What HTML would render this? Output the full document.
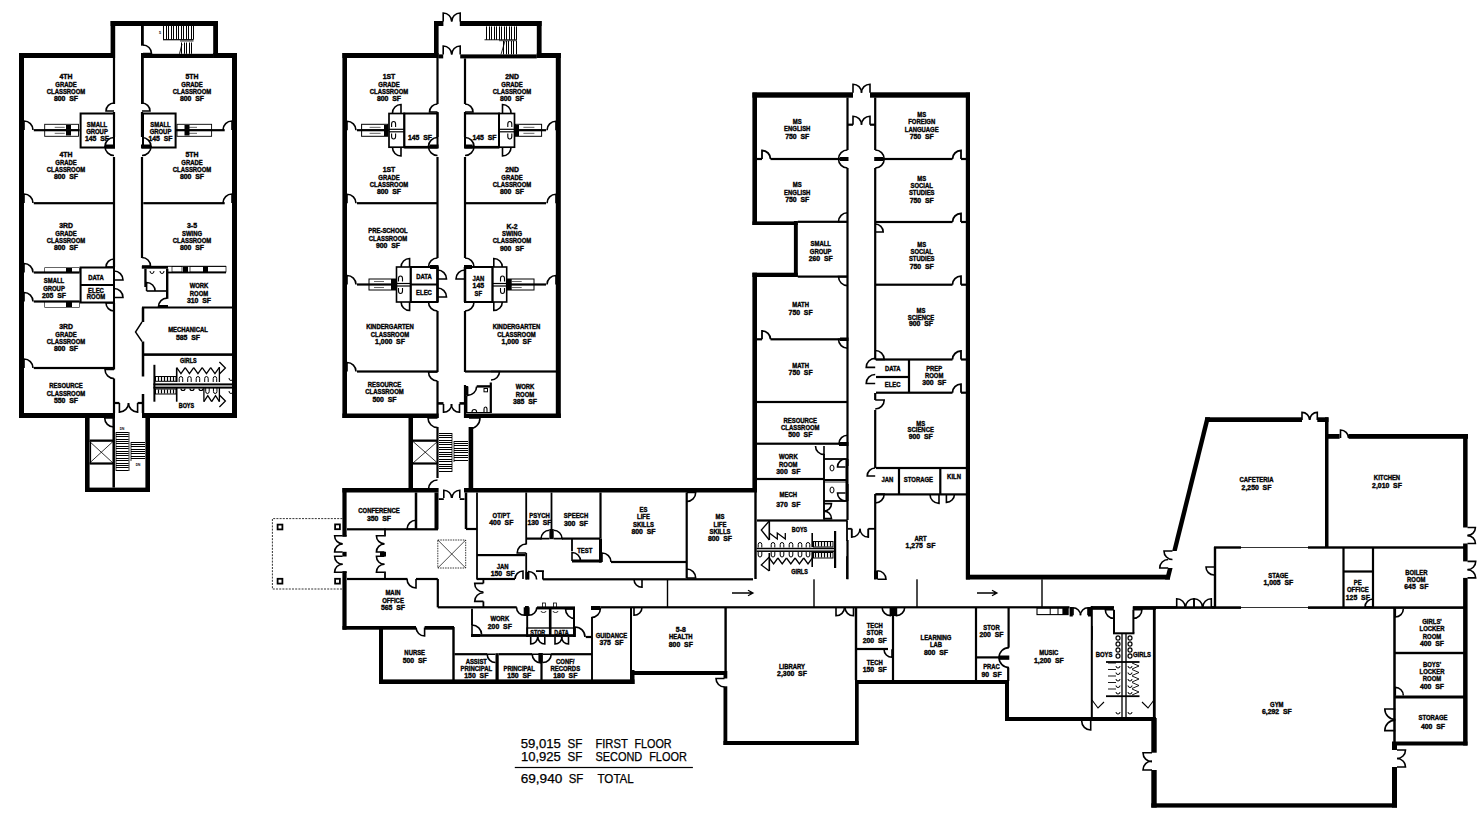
<!DOCTYPE html>
<html><head><meta charset="utf-8"><style>
html,body{margin:0;padding:0;background:#fff;width:1483px;height:825px;overflow:hidden}
svg{display:block}
text{font-family:"Liberation Sans",sans-serif;white-space:pre}
</style></head><body>
<svg width="1483" height="825" viewBox="0 0 1483 825">
<rect x="0" y="0" width="1483" height="825" fill="#fff"/>
<g fill="#000">
<rect x="19.00" y="53.00" width="96.00" height="5.00"/>
<rect x="110.60" y="21.00" width="4.60" height="37.00"/>
<rect x="110.60" y="21.00" width="107.40" height="5.00"/>
<rect x="213.20" y="21.00" width="4.80" height="37.00"/>
<rect x="213.20" y="53.00" width="23.80" height="5.00"/>
<rect x="19.00" y="53.00" width="5.00" height="365.00"/>
<rect x="232.00" y="53.00" width="5.00" height="365.00"/>
<rect x="19.00" y="413.00" width="96.00" height="5.00"/>
<rect x="142.00" y="413.00" width="95.00" height="5.00"/>
<rect x="112.90" y="58.00" width="2.20" height="46.00"/>
<rect x="112.90" y="112.00" width="2.20" height="25.00"/>
<rect x="112.90" y="157.00" width="2.20" height="110.00"/>
<rect x="112.90" y="303.00" width="2.20" height="66.50"/>
<rect x="112.90" y="378.50" width="2.20" height="34.50"/>
<rect x="141.00" y="26.00" width="2.80" height="19.70"/>
<rect x="141.00" y="53.00" width="2.80" height="51.00"/>
<rect x="140.90" y="112.00" width="2.20" height="25.00"/>
<rect x="140.90" y="157.00" width="2.20" height="101.00"/>
<path d="M163.50,26.00V39.50M166.50,26.00V39.50M168.50,26.00V39.50M171.50,26.00V39.50M173.50,26.00V39.50M176.50,26.00V39.50M178.50,26.00V39.50M181.50,26.00V39.50M183.50,26.00V39.50M186.50,26.00V39.50M188.50,26.00V39.50M191.50,26.00V39.50M193.50,26.00V39.50" stroke="#000" stroke-width="1.0" fill="none"/>
<rect x="163.00" y="39.10" width="30.50" height="1.20"/>
<rect x="180.00" y="40.60" width="13.50" height="0.80"/>
<rect x="143.00" y="53.80" width="70.20" height="4.20"/>
<path d="M181.50,42.50V53.80M184.50,42.50V53.80M186.50,42.50V53.80M189.50,42.50V53.80M191.50,42.50V53.80" stroke="#000" stroke-width="1.0" fill="none"/>
<line x1="179.50" y1="53.80" x2="182.00" y2="44.00" stroke="#000" stroke-width="0.9"/>
<path d="M143.00,53.50 L151.50,53.50 A8.50,8.50 0 0 0 143.00,45.00" stroke="#000" stroke-width="1.6" fill="none"/>
<g font-size="4" font-weight="bold" text-anchor="middle"><text transform="translate(160.00,33.86) scale(0.93,1)" x="0" y="0">5</text></g>
<rect x="33.80" y="202.10" width="79.20" height="2.20"/>
<path d="M24.00,203.00 L24.00,194.00 A9.00,9.00 0 0 1 33.00,203.00" stroke="#000" stroke-width="1.6" fill="none"/>
<rect x="33.80" y="129.10" width="45.80" height="2.20"/>
<path d="M24.00,130.00 L24.00,121.00 A9.00,9.00 0 0 1 33.00,130.00" stroke="#000" stroke-width="1.6" fill="none"/>
<rect x="143.30" y="202.10" width="81.40" height="2.20"/>
<path d="M232.00,203.00 L232.00,194.00 A9.00,9.00 0 0 0 223.00,203.00" stroke="#000" stroke-width="1.6" fill="none"/>
<rect x="176.00" y="129.10" width="48.70" height="2.20"/>
<path d="M232.00,130.00 L232.00,121.00 A9.00,9.00 0 0 0 223.00,130.00" stroke="#000" stroke-width="1.6" fill="none"/>
<rect x="80.60" y="113.50" width="33.40" height="34.00" fill="none" stroke="#000" stroke-width="2.0"/>
<rect x="143.00" y="113.50" width="32.60" height="34.00" fill="none" stroke="#000" stroke-width="2.0"/>
<path d="M114.00,111.00 L106.00,111.00 A8.00,8.00 0 0 1 114.00,103.00" stroke="#000" stroke-width="1.6" fill="none"/>
<path d="M114.00,146.50 L105.00,146.50 A9.00,9.00 0 0 1 114.00,137.50" stroke="#000" stroke-width="1.6" fill="none"/>
<path d="M114.00,146.50 L105.00,146.50 A9.00,9.00 0 0 0 114.00,155.50" stroke="#000" stroke-width="1.6" fill="none"/>
<path d="M142.00,111.00 L150.00,111.00 A8.00,8.00 0 0 0 142.00,103.00" stroke="#000" stroke-width="1.6" fill="none"/>
<path d="M142.00,146.50 L151.00,146.50 A9.00,9.00 0 0 0 142.00,137.50" stroke="#000" stroke-width="1.6" fill="none"/>
<path d="M142.00,146.50 L151.00,146.50 A9.00,9.00 0 0 1 142.00,155.50" stroke="#000" stroke-width="1.6" fill="none"/>
<rect x="106.00" y="144.50" width="9.00" height="4.00"/>
<rect x="141.00" y="144.50" width="9.00" height="4.00"/>
<rect x="44.70" y="124.30" width="33.80" height="5.90" fill="none" stroke="#000" stroke-width="0.9"/>
<rect x="44.70" y="130.20" width="33.80" height="6.10" fill="none" stroke="#000" stroke-width="0.9"/>
<rect x="66.00" y="125.00" width="5.00" height="4.50"/>
<rect x="66.00" y="131.00" width="5.00" height="4.50"/>
<rect x="54.70" y="126.90" width="10.00" height="0.60"/>
<rect x="54.70" y="132.90" width="10.00" height="0.60"/>
<rect x="177.00" y="124.30" width="34.60" height="5.90" fill="none" stroke="#000" stroke-width="0.9"/>
<rect x="177.00" y="130.20" width="34.60" height="6.10" fill="none" stroke="#000" stroke-width="0.9"/>
<rect x="184.50" y="125.00" width="5.00" height="4.50"/>
<rect x="184.50" y="131.00" width="5.00" height="4.50"/>
<rect x="187.00" y="126.90" width="10.00" height="0.60"/>
<rect x="187.00" y="132.90" width="10.00" height="0.60"/>
<rect x="80.60" y="267.50" width="33.40" height="35.00" fill="none" stroke="#000" stroke-width="2.0"/>
<rect x="80.60" y="284.00" width="33.40" height="2.00"/>
<path d="M114.00,280.00 L123.00,280.00 A9.00,9.00 0 0 0 114.00,271.00" stroke="#000" stroke-width="1.6" fill="none"/>
<path d="M114.00,297.50 L123.00,297.50 A9.00,9.00 0 0 0 114.00,288.50" stroke="#000" stroke-width="1.6" fill="none"/>
<rect x="33.80" y="271.40" width="45.80" height="2.20"/>
<rect x="33.80" y="300.40" width="45.80" height="2.20"/>
<path d="M24.00,272.50 L24.00,263.50 A9.00,9.00 0 0 1 33.00,272.50" stroke="#000" stroke-width="1.6" fill="none"/>
<path d="M24.00,301.50 L24.00,292.50 A9.00,9.00 0 0 1 33.00,301.50" stroke="#000" stroke-width="1.6" fill="none"/>
<rect x="44.70" y="267.70" width="34.90" height="4.80" fill="none" stroke="#000" stroke-width="0.6"/>
<rect x="66.00" y="268.00" width="6.00" height="4.00"/>
<rect x="44.70" y="301.50" width="34.90" height="5.90" fill="none" stroke="#000" stroke-width="0.6"/>
<rect x="66.00" y="302.00" width="6.00" height="5.00"/>
<rect x="33.80" y="366.90" width="79.20" height="2.20"/>
<path d="M24.00,368.00 L24.00,359.00 A9.00,9.00 0 0 1 33.00,368.00" stroke="#000" stroke-width="1.6" fill="none"/>
<path d="M114.00,303.00 L106.00,303.00 A8.00,8.00 0 0 0 114.00,311.00" stroke="#000" stroke-width="1.6" fill="none"/>
<path d="M114.00,369.50 L105.00,369.50 A9.00,9.00 0 0 0 114.00,378.50" stroke="#000" stroke-width="1.6" fill="none"/>
<path d="M142.00,266.00 L150.50,266.00 A8.50,8.50 0 0 0 142.00,257.50" stroke="#000" stroke-width="1.6" fill="none"/>
<path d="M114.00,267.00 L106.00,267.00 A8.00,8.00 0 0 1 114.00,259.00" stroke="#000" stroke-width="1.6" fill="none"/>
<rect x="141.80" y="265.80" width="26.20" height="2.90"/>
<rect x="168.00" y="265.80" width="58.00" height="1.00"/>
<rect x="168.00" y="271.60" width="58.00" height="1.80"/>
<rect x="172.00" y="266.50" width="10.00" height="5.50" fill="none" stroke="#000" stroke-width="0.7"/>
<rect x="183.00" y="266.50" width="5.00" height="5.50"/>
<rect x="190.00" y="266.50" width="36.00" height="5.50" fill="none" stroke="#000" stroke-width="0.7"/>
<rect x="203.00" y="266.50" width="5.00" height="5.50"/>
<rect x="144.30" y="268.70" width="2.30" height="18.30"/>
<rect x="146.60" y="290.20" width="19.40" height="1.60"/>
<path d="M146.60,291.00 L146.60,282.50 A8.50,8.50 0 0 1 155.10,291.00" stroke="#000" stroke-width="1.6" fill="none"/>
<path d="M150,271 a2,2.5 0 1 0 4,0 M160,271 a2,2.5 0 1 0 4,0" stroke="#000" stroke-width="1.0" fill="none"/>
<rect x="166.00" y="268.70" width="2.40" height="30.10"/>
<path d="M167.00,306.60 L158.50,306.60 A8.50,8.50 0 0 1 167.00,298.10" stroke="#000" stroke-width="1.6" fill="none"/>
<rect x="158.30" y="305.00" width="9.70" height="2.80"/>
<rect x="142.00" y="306.50" width="90.00" height="2.00"/>
<rect x="141.75" y="307.50" width="2.50" height="14.50"/>
<rect x="141.75" y="341.50" width="2.50" height="35.00"/>
<rect x="141.75" y="394.00" width="2.50" height="19.00"/>
<rect x="144.00" y="353.30" width="88.00" height="2.60"/>
<path d="M142,322 L135.5,332 L142,341.5" stroke="#000" stroke-width="1.4" fill="none"/>
<rect x="153.40" y="364.80" width="2.00" height="36.90"/>
<rect x="153.40" y="383.40" width="78.60" height="2.00"/>
<rect x="153.40" y="386.60" width="78.60" height="2.00"/>
<rect x="155.50" y="376.50" width="20.50" height="4.80" fill="none" stroke="#000" stroke-width="1.0"/>
<rect x="155.50" y="389.00" width="20.50" height="5.00" fill="none" stroke="#000" stroke-width="1.0"/>
<path d="M158.50,377.00V381.00M161.50,377.00V381.00M164.50,377.00V381.00M167.50,377.00V381.00M170.50,377.00V381.00M173.50,377.00V381.00" stroke="#000" stroke-width="1.2" fill="none"/>
<path d="M158.50,389.50V393.50M161.50,389.50V393.50M164.50,389.50V393.50M167.50,389.50V393.50M170.50,389.50V393.50M173.50,389.50V393.50" stroke="#000" stroke-width="1.2" fill="none"/>
<rect x="175.90" y="367.70" width="1.60" height="14.30"/>
<rect x="175.90" y="388.00" width="1.60" height="13.70"/>
<path d="M176.7,367.7 l4.25,6 l4.25,-6" stroke="#000" stroke-width="1.3" fill="none"/>
<path d="M179.2,382 v-3.5 a1.75,2 0 0 1 3.5,0 v3.5" stroke="#000" stroke-width="1.0" fill="none"/>
<path d="M185.2,367.7 l4.25,6 l4.25,-6" stroke="#000" stroke-width="1.3" fill="none"/>
<path d="M187.7,382 v-3.5 a1.75,2 0 0 1 3.5,0 v3.5" stroke="#000" stroke-width="1.0" fill="none"/>
<path d="M193.7,367.7 l4.25,6 l4.25,-6" stroke="#000" stroke-width="1.3" fill="none"/>
<path d="M196.2,382 v-3.5 a1.75,2 0 0 1 3.5,0 v3.5" stroke="#000" stroke-width="1.0" fill="none"/>
<path d="M202.2,367.7 l4.25,6 l4.25,-6" stroke="#000" stroke-width="1.3" fill="none"/>
<path d="M204.7,382 v-3.5 a1.75,2 0 0 1 3.5,0 v3.5" stroke="#000" stroke-width="1.0" fill="none"/>
<path d="M210.7,367.7 l4.25,6 l4.25,-6" stroke="#000" stroke-width="1.3" fill="none"/>
<path d="M213.2,382 v-3.5 a1.75,2 0 0 1 3.5,0 v3.5" stroke="#000" stroke-width="1.0" fill="none"/>
<rect x="218.75" y="367.00" width="1.30" height="15.00"/>
<path d="M181,388.5 a2,2 0 0 0 4,0" stroke="#000" stroke-width="1.2" fill="none"/>
<path d="M190,388.5 a2,2 0 0 0 4,0" stroke="#000" stroke-width="1.2" fill="none"/>
<path d="M199,388.5 a2,2 0 0 0 4,0" stroke="#000" stroke-width="1.2" fill="none"/>
<path d="M205.70000000000002,388 v3.5 a1.75,2 0 0 0 3.5,0 v-3.5" stroke="#000" stroke-width="1.0" fill="none"/>
<path d="M203.9,401.7 l3.9,-6 l3.9,6" stroke="#000" stroke-width="1.3" fill="none"/>
<path d="M213.45000000000002,388 v3.5 a1.75,2 0 0 0 3.5,0 v-3.5" stroke="#000" stroke-width="1.0" fill="none"/>
<path d="M211.65,401.7 l3.9,-6 l3.9,6" stroke="#000" stroke-width="1.3" fill="none"/>
<rect x="203.25" y="388.00" width="1.30" height="13.70"/>
<rect x="218.75" y="388.00" width="1.30" height="13.70"/>
<path d="M219.4,362 l6,6 l-6,6 M219.4,395 l6,6 l-6,6" stroke="#000" stroke-width="1.3" fill="none"/>
<path d="M229,378 a2,2.5 0 1 0 4,0 M229,391 a2,2.5 0 1 0 4,0" stroke="#000" stroke-width="1.0" fill="none"/>
<g font-size="6.8" font-weight="bold" text-anchor="middle" stroke="#000" stroke-width="0.4"><text transform="translate(188.40,362.87) scale(0.8,1)" x="0" y="0">GIRLS</text></g>
<g font-size="6.8" font-weight="bold" text-anchor="middle" stroke="#000" stroke-width="0.4"><text transform="translate(186.40,407.57) scale(0.8,1)" x="0" y="0">BOYS</text></g>
<rect x="114.00" y="401.90" width="5.40" height="2.20"/>
<rect x="137.60" y="401.90" width="4.40" height="2.20"/>
<path d="M119.40,403.00 L119.40,412.10 A9.10,9.10 0 0 0 128.50,403.00" stroke="#000" stroke-width="1.6" fill="none"/>
<path d="M137.60,403.00 L137.60,412.10 A9.10,9.10 0 0 1 128.50,403.00" stroke="#000" stroke-width="1.6" fill="none"/>
<rect x="85.00" y="413.00" width="4.60" height="79.00"/>
<rect x="85.00" y="487.60" width="65.00" height="4.40"/>
<rect x="145.40" y="413.00" width="4.60" height="79.00"/>
<rect x="112.45" y="418.00" width="2.50" height="69.60"/>
<rect x="89.60" y="439.50" width="23.40" height="2.30"/>
<rect x="89.60" y="462.40" width="23.40" height="2.20"/>
<rect x="89.90" y="441.50" width="1.20" height="21.50"/>
<line x1="89.60" y1="441.50" x2="113.00" y2="463.00" stroke="#000" stroke-width="0.8"/>
<line x1="113.00" y1="441.50" x2="89.60" y2="463.00" stroke="#000" stroke-width="0.8"/>
<path d="M116.00,432.50H128.60M116.00,434.50H128.60M116.00,436.50H128.60M116.00,439.50H128.60M116.00,441.50H128.60M116.00,443.50H128.60M116.00,446.50H128.60M116.00,448.50H128.60M116.00,451.50H128.60M116.00,453.50H128.60M116.00,455.50H128.60M116.00,458.50H128.60M116.00,460.50H128.60M116.00,463.50H128.60M116.00,465.50H128.60M116.00,467.50H128.60M116.00,470.50H128.60" stroke="#000" stroke-width="1.2" fill="none"/>
<rect x="115.60" y="432.00" width="0.80" height="39.00"/>
<rect x="128.60" y="432.00" width="0.80" height="39.00"/>
<path d="M131.00,442.50H145.00M131.00,444.50H145.00M131.00,446.50H145.00M131.00,449.50H145.00M131.00,451.50H145.00M131.00,453.50H145.00M131.00,456.50H145.00M131.00,458.50H145.00" stroke="#000" stroke-width="1.2" fill="none"/>
<rect x="130.60" y="442.00" width="0.80" height="19.00"/>
<path d="M113.70,418.00 L104.70,418.00 A9.00,9.00 0 0 0 113.70,427.00" stroke="#000" stroke-width="1.6" fill="none"/>
<g font-size="4" font-weight="bold" text-anchor="middle"><text transform="translate(122.00,429.86) scale(0.8,1)" x="0" y="0">DN</text></g>
<g font-size="4" font-weight="bold" text-anchor="middle"><text transform="translate(138.00,465.86) scale(0.8,1)" x="0" y="0">DN</text></g>
<g font-size="7.4" font-weight="bold" text-anchor="middle" stroke="#000" stroke-width="0.4"><text transform="translate(66.00,79.30) scale(0.93,1)" x="0" y="0">4TH</text><text transform="translate(66.00,86.60) scale(0.8,1)" x="0" y="0">GRADE</text><text transform="translate(66.00,93.90) scale(0.8,1)" x="0" y="0">CLASSROOM</text><text transform="translate(66.00,101.20) scale(0.93,1)" x="0" y="0">800  SF</text></g>
<g font-size="7.4" font-weight="bold" text-anchor="middle" stroke="#000" stroke-width="0.4"><text transform="translate(192.00,79.30) scale(0.93,1)" x="0" y="0">5TH</text><text transform="translate(192.00,86.60) scale(0.8,1)" x="0" y="0">GRADE</text><text transform="translate(192.00,93.90) scale(0.8,1)" x="0" y="0">CLASSROOM</text><text transform="translate(192.00,101.20) scale(0.93,1)" x="0" y="0">800  SF</text></g>
<g font-size="7.4" font-weight="bold" text-anchor="middle" stroke="#000" stroke-width="0.4"><text transform="translate(66.00,157.30) scale(0.93,1)" x="0" y="0">4TH</text><text transform="translate(66.00,164.60) scale(0.8,1)" x="0" y="0">GRADE</text><text transform="translate(66.00,171.90) scale(0.8,1)" x="0" y="0">CLASSROOM</text><text transform="translate(66.00,179.20) scale(0.93,1)" x="0" y="0">800  SF</text></g>
<g font-size="7.4" font-weight="bold" text-anchor="middle" stroke="#000" stroke-width="0.4"><text transform="translate(192.00,157.30) scale(0.93,1)" x="0" y="0">5TH</text><text transform="translate(192.00,164.60) scale(0.8,1)" x="0" y="0">GRADE</text><text transform="translate(192.00,171.90) scale(0.8,1)" x="0" y="0">CLASSROOM</text><text transform="translate(192.00,179.20) scale(0.93,1)" x="0" y="0">800  SF</text></g>
<g font-size="7.4" font-weight="bold" text-anchor="middle" stroke="#000" stroke-width="0.4"><text transform="translate(97.00,126.60) scale(0.8,1)" x="0" y="0">SMALL</text><text transform="translate(97.00,133.60) scale(0.8,1)" x="0" y="0">GROUP</text><text transform="translate(97.00,140.60) scale(0.93,1)" x="0" y="0">145  SF</text></g>
<g font-size="7.4" font-weight="bold" text-anchor="middle" stroke="#000" stroke-width="0.4"><text transform="translate(160.50,126.60) scale(0.8,1)" x="0" y="0">SMALL</text><text transform="translate(160.50,133.60) scale(0.8,1)" x="0" y="0">GROUP</text><text transform="translate(160.50,140.60) scale(0.93,1)" x="0" y="0">145  SF</text></g>
<g font-size="7.4" font-weight="bold" text-anchor="middle" stroke="#000" stroke-width="0.4"><text transform="translate(66.00,228.30) scale(0.93,1)" x="0" y="0">3RD</text><text transform="translate(66.00,235.60) scale(0.8,1)" x="0" y="0">GRADE</text><text transform="translate(66.00,242.90) scale(0.8,1)" x="0" y="0">CLASSROOM</text><text transform="translate(66.00,250.20) scale(0.93,1)" x="0" y="0">800  SF</text></g>
<g font-size="7.4" font-weight="bold" text-anchor="middle" stroke="#000" stroke-width="0.4"><text transform="translate(192.00,228.30) scale(0.93,1)" x="0" y="0">3-5</text><text transform="translate(192.00,235.60) scale(0.8,1)" x="0" y="0">SWING</text><text transform="translate(192.00,242.90) scale(0.8,1)" x="0" y="0">CLASSROOM</text><text transform="translate(192.00,250.20) scale(0.93,1)" x="0" y="0">800  SF</text></g>
<g font-size="7.4" font-weight="bold" text-anchor="middle" stroke="#000" stroke-width="0.4"><text transform="translate(96.00,280.30) scale(0.8,1)" x="0" y="0">DATA</text></g>
<g font-size="7.4" font-weight="bold" text-anchor="middle" stroke="#000" stroke-width="0.4"><text transform="translate(96.00,292.50) scale(0.8,1)" x="0" y="0">ELEC</text><text transform="translate(96.00,299.30) scale(0.8,1)" x="0" y="0">ROOM</text></g>
<g font-size="7.4" font-weight="bold" text-anchor="middle" stroke="#000" stroke-width="0.4"><text transform="translate(54.00,283.30) scale(0.8,1)" x="0" y="0">SMALL</text><text transform="translate(54.00,290.60) scale(0.8,1)" x="0" y="0">GROUP</text><text transform="translate(54.00,297.90) scale(0.93,1)" x="0" y="0">205  SF</text></g>
<g font-size="7.4" font-weight="bold" text-anchor="middle" stroke="#000" stroke-width="0.4"><text transform="translate(199.00,288.30) scale(0.8,1)" x="0" y="0">WORK</text><text transform="translate(199.00,295.60) scale(0.8,1)" x="0" y="0">ROOM</text><text transform="translate(199.00,302.90) scale(0.93,1)" x="0" y="0">310  SF</text></g>
<g font-size="7.4" font-weight="bold" text-anchor="middle" stroke="#000" stroke-width="0.4"><text transform="translate(66.00,329.30) scale(0.93,1)" x="0" y="0">3RD</text><text transform="translate(66.00,336.60) scale(0.8,1)" x="0" y="0">GRADE</text><text transform="translate(66.00,343.90) scale(0.8,1)" x="0" y="0">CLASSROOM</text><text transform="translate(66.00,351.20) scale(0.93,1)" x="0" y="0">800  SF</text></g>
<g font-size="7.4" font-weight="bold" text-anchor="middle" stroke="#000" stroke-width="0.4"><text transform="translate(188.00,332.30) scale(0.8,1)" x="0" y="0">MECHANICAL</text><text transform="translate(188.00,339.60) scale(0.93,1)" x="0" y="0">585  SF</text></g>
<g font-size="7.4" font-weight="bold" text-anchor="middle" stroke="#000" stroke-width="0.4"><text transform="translate(66.00,388.30) scale(0.8,1)" x="0" y="0">RESOURCE</text><text transform="translate(66.00,395.60) scale(0.8,1)" x="0" y="0">CLASSROOM</text><text transform="translate(66.00,402.90) scale(0.93,1)" x="0" y="0">550  SF</text></g>
<rect x="342.40" y="53.00" width="96.20" height="5.00"/>
<rect x="434.00" y="21.00" width="4.60" height="37.00"/>
<rect x="434.00" y="21.00" width="9.40" height="5.00"/>
<rect x="459.80" y="21.00" width="81.80" height="5.00"/>
<rect x="536.80" y="21.00" width="4.80" height="37.00"/>
<rect x="536.80" y="53.00" width="24.00" height="5.00"/>
<path d="M443.20,21.50 L443.20,13.00 A8.50,8.50 0 0 1 451.70,21.50" stroke="#000" stroke-width="1.6" fill="none"/>
<path d="M460.20,21.50 L460.20,13.00 A8.50,8.50 0 0 0 451.70,21.50" stroke="#000" stroke-width="1.6" fill="none"/>
<rect x="342.40" y="53.00" width="4.60" height="365.00"/>
<rect x="555.80" y="53.00" width="5.00" height="365.00"/>
<rect x="342.40" y="413.50" width="96.20" height="4.50"/>
<rect x="464.00" y="413.50" width="96.80" height="4.50"/>
<rect x="436.40" y="58.00" width="2.20" height="46.00"/>
<rect x="436.40" y="112.00" width="2.20" height="25.00"/>
<rect x="436.40" y="157.00" width="2.20" height="101.00"/>
<rect x="436.40" y="311.00" width="2.20" height="61.00"/>
<rect x="436.40" y="381.00" width="2.20" height="31.00"/>
<rect x="438.60" y="54.40" width="4.60" height="4.00"/>
<rect x="460.20" y="54.40" width="76.60" height="4.00"/>
<rect x="463.90" y="58.40" width="2.20" height="45.60"/>
<rect x="463.90" y="112.00" width="2.20" height="25.00"/>
<rect x="463.90" y="157.00" width="2.20" height="101.00"/>
<rect x="463.90" y="311.00" width="2.20" height="61.00"/>
<rect x="463.90" y="385.00" width="2.20" height="33.00"/>
<rect x="436.25" y="267.00" width="2.50" height="35.00"/>
<rect x="463.75" y="267.00" width="2.50" height="35.00"/>
<path d="M443.20,54.50 L443.20,46.00 A8.50,8.50 0 0 1 451.70,54.50" stroke="#000" stroke-width="1.6" fill="none"/>
<path d="M460.20,54.50 L460.20,46.00 A8.50,8.50 0 0 0 451.70,54.50" stroke="#000" stroke-width="1.6" fill="none"/>
<path d="M486.50,26.40V39.80M489.50,26.40V39.80M491.50,26.40V39.80M494.50,26.40V39.80M496.50,26.40V39.80M499.50,26.40V39.80M501.50,26.40V39.80M504.50,26.40V39.80M506.50,26.40V39.80M509.50,26.40V39.80M511.50,26.40V39.80M514.50,26.40V39.80M516.50,26.40V39.80" stroke="#000" stroke-width="1.0" fill="none"/>
<rect x="484.50" y="39.35" width="32.50" height="0.90"/>
<rect x="499.00" y="40.45" width="18.00" height="0.70"/>
<path d="M503.50,41.00V54.40M506.50,41.00V54.40M508.50,41.00V54.40M511.50,41.00V54.40M513.50,41.00V54.40M516.50,41.00V54.40" stroke="#000" stroke-width="1.0" fill="none"/>
<line x1="501.00" y1="54.40" x2="505.00" y2="41.00" stroke="#000" stroke-width="0.8"/>
<rect x="404.30" y="113.50" width="33.20" height="33.70" fill="none" stroke="#000" stroke-width="2.0"/>
<rect x="389.00" y="113.50" width="15.30" height="33.70" fill="none" stroke="#000" stroke-width="1.7"/>
<rect x="404.30" y="145.90" width="33.20" height="2.60"/>
<rect x="465.00" y="113.50" width="34.00" height="33.70" fill="none" stroke="#000" stroke-width="2.0"/>
<rect x="499.00" y="113.50" width="15.50" height="33.70" fill="none" stroke="#000" stroke-width="1.7"/>
<rect x="465.00" y="145.90" width="34.00" height="2.60"/>
<path d="M401.00,113.00 L401.00,104.50 A8.50,8.50 0 0 0 392.50,113.00" stroke="#000" stroke-width="1.6" fill="none"/>
<path d="M401.00,147.50 L401.00,156.00 A8.50,8.50 0 0 1 392.50,147.50" stroke="#000" stroke-width="1.6" fill="none"/>
<path d="M502.50,113.00 L502.50,104.50 A8.50,8.50 0 0 1 511.00,113.00" stroke="#000" stroke-width="1.6" fill="none"/>
<path d="M502.50,147.50 L502.50,156.00 A8.50,8.50 0 0 0 511.00,147.50" stroke="#000" stroke-width="1.6" fill="none"/>
<path d="M437.50,112.00 L429.50,112.00 A8.00,8.00 0 0 1 437.50,104.00" stroke="#000" stroke-width="1.6" fill="none"/>
<path d="M437.50,146.50 L428.50,146.50 A9.00,9.00 0 0 1 437.50,137.50" stroke="#000" stroke-width="1.6" fill="none"/>
<path d="M437.50,146.50 L428.50,146.50 A9.00,9.00 0 0 0 437.50,155.50" stroke="#000" stroke-width="1.6" fill="none"/>
<rect x="430.00" y="144.50" width="8.50" height="4.00"/>
<path d="M465.00,112.00 L473.00,112.00 A8.00,8.00 0 0 0 465.00,104.00" stroke="#000" stroke-width="1.6" fill="none"/>
<path d="M465.00,146.50 L474.00,146.50 A9.00,9.00 0 0 0 465.00,137.50" stroke="#000" stroke-width="1.6" fill="none"/>
<path d="M465.00,146.50 L474.00,146.50 A9.00,9.00 0 0 1 465.00,155.50" stroke="#000" stroke-width="1.6" fill="none"/>
<rect x="464.00" y="144.50" width="8.50" height="4.00"/>
<rect x="357.00" y="129.10" width="31.50" height="2.20"/>
<path d="M347.00,130.20 L347.00,121.20 A9.00,9.00 0 0 1 356.00,130.20" stroke="#000" stroke-width="1.6" fill="none"/>
<path d="M391.6,127 v-3 a2,2.5 0 0 1 4,0 v3 M391.6,133.5 v3 a2,2.5 0 0 0 4,0 v-3" stroke="#000" stroke-width="1.1" fill="none"/>
<path d="M507.8,127 v-3 a2,2.5 0 0 1 4,0 v3 M507.8,133.5 v3 a2,2.5 0 0 0 4,0 v-3" stroke="#000" stroke-width="1.1" fill="none"/>
<rect x="389.00" y="128.70" width="15.30" height="1.20"/>
<rect x="389.00" y="131.20" width="15.30" height="1.20"/>
<rect x="499.00" y="128.70" width="15.50" height="1.20"/>
<rect x="499.00" y="131.20" width="15.50" height="1.20"/>
<path d="M398.5,281.5 v-3 a2,2.5 0 0 1 4,0 v3 M398.5,288 v3 a2,2.5 0 0 0 4,0 v-3" stroke="#000" stroke-width="1.1" fill="none"/>
<path d="M500.5,281.5 v-3 a2,2.5 0 0 1 4,0 v3 M500.5,288 v3 a2,2.5 0 0 0 4,0 v-3" stroke="#000" stroke-width="1.1" fill="none"/>
<rect x="396.50" y="282.90" width="14.20" height="1.20"/>
<rect x="396.50" y="285.40" width="14.20" height="1.20"/>
<rect x="492.50" y="282.90" width="14.20" height="1.20"/>
<rect x="492.50" y="285.40" width="14.20" height="1.20"/>
<rect x="515.00" y="129.10" width="31.00" height="2.20"/>
<path d="M556.00,130.20 L556.00,121.20 A9.00,9.00 0 0 0 547.00,130.20" stroke="#000" stroke-width="1.6" fill="none"/>
<rect x="361.60" y="124.30" width="26.20" height="5.90" fill="none" stroke="#000" stroke-width="1.0"/>
<rect x="361.60" y="130.20" width="26.20" height="6.10" fill="none" stroke="#000" stroke-width="1.0"/>
<rect x="369.60" y="126.90" width="11.00" height="0.60"/>
<rect x="369.60" y="132.90" width="11.00" height="0.60"/>
<rect x="515.40" y="124.30" width="26.20" height="5.90" fill="none" stroke="#000" stroke-width="1.0"/>
<rect x="515.40" y="130.20" width="26.20" height="6.10" fill="none" stroke="#000" stroke-width="1.0"/>
<rect x="523.40" y="126.90" width="11.00" height="0.60"/>
<rect x="523.40" y="132.90" width="11.00" height="0.60"/>
<rect x="384.00" y="125.00" width="4.00" height="11.00"/>
<rect x="515.00" y="125.00" width="4.00" height="11.00"/>
<rect x="357.00" y="202.10" width="80.50" height="2.20"/>
<path d="M347.00,203.20 L347.00,194.20 A9.00,9.00 0 0 1 356.00,203.20" stroke="#000" stroke-width="1.6" fill="none"/>
<rect x="465.00" y="202.10" width="81.00" height="2.20"/>
<path d="M556.00,203.20 L556.00,194.20 A9.00,9.00 0 0 0 547.00,203.20" stroke="#000" stroke-width="1.6" fill="none"/>
<rect x="357.00" y="283.40" width="39.50" height="2.20"/>
<path d="M347.00,284.50 L347.00,275.50 A9.00,9.00 0 0 1 356.00,284.50" stroke="#000" stroke-width="1.6" fill="none"/>
<rect x="506.70" y="283.40" width="39.30" height="2.20"/>
<path d="M556.00,284.50 L556.00,275.50 A9.00,9.00 0 0 0 547.00,284.50" stroke="#000" stroke-width="1.6" fill="none"/>
<rect x="410.70" y="267.00" width="26.80" height="35.00" fill="none" stroke="#000" stroke-width="2.0"/>
<rect x="410.70" y="283.50" width="26.80" height="2.00"/>
<rect x="396.50" y="267.00" width="14.20" height="35.00" fill="none" stroke="#000" stroke-width="1.6"/>
<rect x="465.00" y="267.00" width="27.50" height="35.00" fill="none" stroke="#000" stroke-width="2.0"/>
<rect x="492.50" y="267.00" width="14.20" height="35.00" fill="none" stroke="#000" stroke-width="1.6"/>
<path d="M409.60,267.00 L409.60,258.50 A8.50,8.50 0 0 0 401.10,267.00" stroke="#000" stroke-width="1.6" fill="none"/>
<path d="M409.60,302.00 L409.60,310.50 A8.50,8.50 0 0 1 401.10,302.00" stroke="#000" stroke-width="1.6" fill="none"/>
<path d="M493.80,267.00 L493.80,258.50 A8.50,8.50 0 0 1 502.30,267.00" stroke="#000" stroke-width="1.6" fill="none"/>
<path d="M493.80,302.00 L493.80,310.50 A8.50,8.50 0 0 0 502.30,302.00" stroke="#000" stroke-width="1.6" fill="none"/>
<rect x="369.00" y="279.00" width="27.50" height="5.50" fill="none" stroke="#000" stroke-width="1.0"/>
<rect x="369.00" y="284.50" width="27.50" height="5.50" fill="none" stroke="#000" stroke-width="1.0"/>
<rect x="391.00" y="279.00" width="5.00" height="11.00"/>
<rect x="374.00" y="281.40" width="10.00" height="0.60"/>
<rect x="374.00" y="287.00" width="10.00" height="0.60"/>
<rect x="506.70" y="279.00" width="27.30" height="5.50" fill="none" stroke="#000" stroke-width="1.0"/>
<rect x="506.70" y="284.50" width="27.30" height="5.50" fill="none" stroke="#000" stroke-width="1.0"/>
<rect x="506.70" y="279.00" width="5.00" height="11.00"/>
<rect x="511.70" y="281.40" width="10.00" height="0.60"/>
<rect x="511.70" y="287.00" width="10.00" height="0.60"/>
<path d="M437.50,279.00 L446.50,279.00 A9.00,9.00 0 0 0 437.50,270.00" stroke="#000" stroke-width="1.6" fill="none"/>
<path d="M437.50,297.00 L446.50,297.00 A9.00,9.00 0 0 0 437.50,288.00" stroke="#000" stroke-width="1.6" fill="none"/>
<path d="M465.00,279.00 L456.00,279.00 A9.00,9.00 0 0 1 465.00,270.00" stroke="#000" stroke-width="1.6" fill="none"/>
<path d="M437.50,267.00 L428.50,267.00 A9.00,9.00 0 0 1 437.50,258.00" stroke="#000" stroke-width="1.6" fill="none"/>
<path d="M437.50,302.00 L428.50,302.00 A9.00,9.00 0 0 0 437.50,311.00" stroke="#000" stroke-width="1.6" fill="none"/>
<path d="M465.00,267.00 L474.00,267.00 A9.00,9.00 0 0 0 465.00,258.00" stroke="#000" stroke-width="1.6" fill="none"/>
<path d="M465.00,302.00 L474.00,302.00 A9.00,9.00 0 0 1 465.00,311.00" stroke="#000" stroke-width="1.6" fill="none"/>
<rect x="430.00" y="265.00" width="8.50" height="4.00"/>
<rect x="464.00" y="265.00" width="8.00" height="4.00"/>
<rect x="357.00" y="370.40" width="80.50" height="2.20"/>
<path d="M347.00,371.50 L347.00,362.50 A9.00,9.00 0 0 1 356.00,371.50" stroke="#000" stroke-width="1.6" fill="none"/>
<path d="M437.50,372.00 L428.50,372.00 A9.00,9.00 0 0 0 437.50,381.00" stroke="#000" stroke-width="1.6" fill="none"/>
<rect x="465.00" y="370.40" width="91.00" height="2.20"/>
<rect x="489.70" y="382.50" width="2.20" height="30.50"/>
<path d="M491.00,371.50 L499.50,371.50 A8.50,8.50 0 0 1 491.00,380.00" stroke="#000" stroke-width="1.6" fill="none"/>
<rect x="465.00" y="386.00" width="3.00" height="9.50"/>
<rect x="465.20" y="395.50" width="2.20" height="17.50"/>
<path d="M467.60,386.40 L467.60,395.40 A9.00,9.00 0 0 0 476.60,386.40" stroke="#000" stroke-width="1.6" fill="none"/>
<rect x="476.70" y="385.20" width="14.30" height="2.40"/>
<rect x="466.00" y="412.00" width="25.00" height="1.00"/>
<rect x="484.00" y="388.50" width="3.50" height="3.30" fill="none" stroke="#000" stroke-width="1.0"/>
<path d="M472,412 a2.3,2.5 0 0 1 4.6,0 M484,412 v-3 a1.5,2 0 0 1 3,0 v3" stroke="#000" stroke-width="1.1" fill="none"/>
<rect x="437.50" y="402.10" width="6.00" height="2.60"/>
<rect x="459.50" y="402.10" width="5.50" height="2.60"/>
<path d="M443.50,404.00 L443.50,412.30 A8.30,8.30 0 0 0 451.80,404.00" stroke="#000" stroke-width="1.6" fill="none"/>
<path d="M459.50,404.00 L459.50,412.30 A8.30,8.30 0 0 1 451.20,404.00" stroke="#000" stroke-width="1.6" fill="none"/>
<rect x="408.50" y="418.00" width="4.50" height="71.00"/>
<rect x="468.60" y="427.00" width="4.60" height="62.00"/>
<rect x="436.40" y="412.00" width="2.20" height="6.00"/>
<rect x="436.40" y="427.00" width="2.20" height="51.00"/>
<rect x="413.00" y="439.50" width="24.50" height="2.30"/>
<rect x="413.00" y="462.40" width="24.50" height="2.20"/>
<line x1="413.00" y1="441.50" x2="437.50" y2="463.00" stroke="#000" stroke-width="0.8"/>
<line x1="437.50" y1="441.50" x2="413.00" y2="463.00" stroke="#000" stroke-width="0.8"/>
<path d="M439.00,433.50H452.00M439.00,435.50H452.00M439.00,437.50H452.00M439.00,440.50H452.00M439.00,442.50H452.00M439.00,444.50H452.00M439.00,447.50H452.00M439.00,449.50H452.00M439.00,452.50H452.00M439.00,454.50H452.00M439.00,456.50H452.00M439.00,459.50H452.00M439.00,461.50H452.00M439.00,464.50H452.00M439.00,466.50H452.00M439.00,468.50H452.00M439.00,471.50H452.00" stroke="#000" stroke-width="1.2" fill="none"/>
<rect x="451.60" y="433.00" width="0.80" height="39.00"/>
<path d="M454.00,441.50H468.00M454.00,443.50H468.00M454.00,445.50H468.00M454.00,448.50H468.00M454.00,450.50H468.00M454.00,452.50H468.00M454.00,455.50H468.00M454.00,457.50H468.00M454.00,460.50H468.00" stroke="#000" stroke-width="1.2" fill="none"/>
<rect x="453.60" y="441.00" width="0.80" height="21.00"/>
<path d="M437.50,418.00 L428.00,418.00 A9.50,9.50 0 0 0 437.50,427.50" stroke="#000" stroke-width="1.6" fill="none"/>
<path d="M469.00,418.00 L480.00,418.00 A11.00,11.00 0 0 1 469.00,429.00" stroke="#000" stroke-width="1.6" fill="none"/>
<path d="M437.50,489.00 L428.50,489.00 A9.00,9.00 0 0 1 437.50,480.00" stroke="#000" stroke-width="1.6" fill="none"/>
<g font-size="7.4" font-weight="bold" text-anchor="middle" stroke="#000" stroke-width="0.4"><text transform="translate(389.00,79.30) scale(0.93,1)" x="0" y="0">1ST</text><text transform="translate(389.00,86.60) scale(0.8,1)" x="0" y="0">GRADE</text><text transform="translate(389.00,93.90) scale(0.8,1)" x="0" y="0">CLASSROOM</text><text transform="translate(389.00,101.20) scale(0.93,1)" x="0" y="0">800  SF</text></g>
<g font-size="7.4" font-weight="bold" text-anchor="middle" stroke="#000" stroke-width="0.4"><text transform="translate(512.00,79.30) scale(0.93,1)" x="0" y="0">2ND</text><text transform="translate(512.00,86.60) scale(0.8,1)" x="0" y="0">GRADE</text><text transform="translate(512.00,93.90) scale(0.8,1)" x="0" y="0">CLASSROOM</text><text transform="translate(512.00,101.20) scale(0.93,1)" x="0" y="0">800  SF</text></g>
<g font-size="7.4" font-weight="bold" text-anchor="middle" stroke="#000" stroke-width="0.4"><text transform="translate(389.00,172.30) scale(0.93,1)" x="0" y="0">1ST</text><text transform="translate(389.00,179.60) scale(0.8,1)" x="0" y="0">GRADE</text><text transform="translate(389.00,186.90) scale(0.8,1)" x="0" y="0">CLASSROOM</text><text transform="translate(389.00,194.20) scale(0.93,1)" x="0" y="0">800  SF</text></g>
<g font-size="7.4" font-weight="bold" text-anchor="middle" stroke="#000" stroke-width="0.4"><text transform="translate(512.00,172.30) scale(0.93,1)" x="0" y="0">2ND</text><text transform="translate(512.00,179.60) scale(0.8,1)" x="0" y="0">GRADE</text><text transform="translate(512.00,186.90) scale(0.8,1)" x="0" y="0">CLASSROOM</text><text transform="translate(512.00,194.20) scale(0.93,1)" x="0" y="0">800  SF</text></g>
<g font-size="7.4" font-weight="bold" text-anchor="middle" stroke="#000" stroke-width="0.4"><text transform="translate(420.00,140.30) scale(0.93,1)" x="0" y="0">145  SF</text></g>
<g font-size="7.4" font-weight="bold" text-anchor="middle" stroke="#000" stroke-width="0.4"><text transform="translate(484.50,140.30) scale(0.93,1)" x="0" y="0">145  SF</text></g>
<g font-size="7.4" font-weight="bold" text-anchor="middle" stroke="#000" stroke-width="0.4"><text transform="translate(388.00,233.30) scale(0.8,1)" x="0" y="0">PRE-SCHOOL</text><text transform="translate(388.00,240.60) scale(0.8,1)" x="0" y="0">CLASSROOM</text><text transform="translate(388.00,247.90) scale(0.93,1)" x="0" y="0">900  SF</text></g>
<g font-size="7.4" font-weight="bold" text-anchor="middle" stroke="#000" stroke-width="0.4"><text transform="translate(512.00,228.80) scale(0.93,1)" x="0" y="0">K-2</text><text transform="translate(512.00,236.10) scale(0.8,1)" x="0" y="0">SWING</text><text transform="translate(512.00,243.40) scale(0.8,1)" x="0" y="0">CLASSROOM</text><text transform="translate(512.00,250.70) scale(0.93,1)" x="0" y="0">900  SF</text></g>
<g font-size="7.4" font-weight="bold" text-anchor="middle" stroke="#000" stroke-width="0.4"><text transform="translate(424.00,278.90) scale(0.8,1)" x="0" y="0">DATA</text></g>
<g font-size="7.4" font-weight="bold" text-anchor="middle" stroke="#000" stroke-width="0.4"><text transform="translate(424.00,295.30) scale(0.8,1)" x="0" y="0">ELEC</text></g>
<g font-size="7.4" font-weight="bold" text-anchor="middle" stroke="#000" stroke-width="0.4"><text transform="translate(478.30,281.10) scale(0.8,1)" x="0" y="0">JAN</text><text transform="translate(478.30,288.40) scale(0.93,1)" x="0" y="0">145</text><text transform="translate(478.30,295.70) scale(0.8,1)" x="0" y="0">SF</text></g>
<g font-size="7.4" font-weight="bold" text-anchor="middle" stroke="#000" stroke-width="0.4"><text transform="translate(390.00,329.30) scale(0.8,1)" x="0" y="0">KINDERGARTEN</text><text transform="translate(390.00,336.60) scale(0.8,1)" x="0" y="0">CLASSROOM</text><text transform="translate(390.00,343.90) scale(0.93,1)" x="0" y="0">1,000  SF</text></g>
<g font-size="7.4" font-weight="bold" text-anchor="middle" stroke="#000" stroke-width="0.4"><text transform="translate(516.50,329.30) scale(0.8,1)" x="0" y="0">KINDERGARTEN</text><text transform="translate(516.50,336.60) scale(0.8,1)" x="0" y="0">CLASSROOM</text><text transform="translate(516.50,343.90) scale(0.93,1)" x="0" y="0">1,000  SF</text></g>
<g font-size="7.4" font-weight="bold" text-anchor="middle" stroke="#000" stroke-width="0.4"><text transform="translate(384.50,387.00) scale(0.8,1)" x="0" y="0">RESOURCE</text><text transform="translate(384.50,394.30) scale(0.8,1)" x="0" y="0">CLASSROOM</text><text transform="translate(384.50,401.60) scale(0.93,1)" x="0" y="0">500  SF</text></g>
<g font-size="7.4" font-weight="bold" text-anchor="middle" stroke="#000" stroke-width="0.4"><text transform="translate(525.00,389.30) scale(0.8,1)" x="0" y="0">WORK</text><text transform="translate(525.00,396.60) scale(0.8,1)" x="0" y="0">ROOM</text><text transform="translate(525.00,403.90) scale(0.93,1)" x="0" y="0">385  SF</text></g>
<rect x="342.40" y="488.00" width="96.20" height="4.50"/>
<rect x="464.00" y="488.00" width="293.00" height="4.50"/>
<rect x="438.70" y="498.20" width="5.10" height="1.80"/>
<rect x="459.80" y="498.20" width="4.70" height="1.80"/>
<path d="M443.80,498.00 L443.80,490.20 A7.80,7.80 0 0 1 451.60,498.00" stroke="#000" stroke-width="1.6" fill="none"/>
<path d="M459.80,498.00 L459.80,490.20 A7.80,7.80 0 0 0 452.00,498.00" stroke="#000" stroke-width="1.6" fill="none"/>
<rect x="342.40" y="488.00" width="4.20" height="48.70"/>
<rect x="342.40" y="571.20" width="4.20" height="58.50"/>
<rect x="342.40" y="551.80" width="4.20" height="4.70"/>
<path d="M342.4,518.6 H272.4 V589 H342.4" fill="none" stroke="#000" stroke-width="0.8" stroke-dasharray="2,1.2"/>
<rect x="277.60" y="524.60" width="4.80" height="4.80" fill="none" stroke="#000" stroke-width="1.8"/>
<rect x="335.10" y="524.40" width="4.80" height="4.80" fill="none" stroke="#000" stroke-width="1.8"/>
<rect x="277.60" y="578.80" width="4.80" height="4.80" fill="none" stroke="#000" stroke-width="1.8"/>
<rect x="335.10" y="578.80" width="4.80" height="4.80" fill="none" stroke="#000" stroke-width="1.8"/>
<path d="M342.60,535.70 L334.60,535.70 A8.00,8.00 0 0 0 342.60,543.70" stroke="#000" stroke-width="1.6" fill="none"/>
<path d="M342.60,552.00 L334.60,552.00 A8.00,8.00 0 0 1 342.60,544.00" stroke="#000" stroke-width="1.6" fill="none"/>
<path d="M342.60,556.30 L334.60,556.30 A8.00,8.00 0 0 0 342.60,564.30" stroke="#000" stroke-width="1.6" fill="none"/>
<path d="M342.60,572.20 L334.60,572.20 A8.00,8.00 0 0 1 342.60,564.20" stroke="#000" stroke-width="1.6" fill="none"/>
<path d="M384.40,535.70 L376.40,535.70 A8.00,8.00 0 0 0 384.40,543.70" stroke="#000" stroke-width="1.6" fill="none"/>
<path d="M384.40,552.00 L376.40,552.00 A8.00,8.00 0 0 1 384.40,544.00" stroke="#000" stroke-width="1.6" fill="none"/>
<path d="M384.40,556.30 L376.40,556.30 A8.00,8.00 0 0 0 384.40,564.30" stroke="#000" stroke-width="1.6" fill="none"/>
<path d="M384.40,572.20 L376.40,572.20 A8.00,8.00 0 0 1 384.40,564.20" stroke="#000" stroke-width="1.6" fill="none"/>
<rect x="342.60" y="534.90" width="4.00" height="1.60"/>
<rect x="342.60" y="571.40" width="4.00" height="1.60"/>
<rect x="384.10" y="528.50" width="1.80" height="8.00"/>
<rect x="384.10" y="571.50" width="1.80" height="7.50"/>
<rect x="380.00" y="551.80" width="6.00" height="4.70"/>
<rect x="347.00" y="528.20" width="69.00" height="2.20"/>
<rect x="414.75" y="492.50" width="2.50" height="36.80"/>
<rect x="434.50" y="492.50" width="4.00" height="36.80"/>
<rect x="416.00" y="528.20" width="22.00" height="2.20"/>
<path d="M416.00,529.30 L407.00,529.30 A9.00,9.00 0 0 1 416.00,520.30" stroke="#000" stroke-width="1.6" fill="none"/>
<rect x="464.75" y="492.50" width="2.50" height="36.50"/>
<rect x="466.00" y="527.90" width="11.00" height="2.20"/>
<rect x="476.10" y="492.50" width="1.80" height="87.10"/>
<rect x="437.80" y="540.00" width="27.90" height="28.00" fill="none" stroke="#000" stroke-width="0.8" stroke-dasharray="1.5,1"/>
<line x1="437.80" y1="540.00" x2="465.70" y2="568.00" stroke="#000" stroke-width="0.7"/>
<line x1="465.70" y1="540.00" x2="437.80" y2="568.00" stroke="#000" stroke-width="0.7"/>
<rect x="347.00" y="577.90" width="60.50" height="2.20"/>
<rect x="416.00" y="577.90" width="21.80" height="2.20"/>
<path d="M416.00,579.00 L416.00,588.00 A9.00,9.00 0 0 1 407.00,579.00" stroke="#000" stroke-width="1.6" fill="none"/>
<rect x="436.70" y="579.00" width="2.20" height="28.30"/>
<rect x="342.50" y="626.00" width="73.50" height="3.70"/>
<rect x="424.60" y="626.00" width="29.40" height="3.70"/>
<path d="M424.60,627.50 L424.60,636.00 A8.50,8.50 0 0 1 416.10,627.50" stroke="#000" stroke-width="1.6" fill="none"/>
<rect x="379.00" y="626.00" width="4.00" height="58.00"/>
<rect x="452.30" y="627.00" width="2.40" height="53.00"/>
<rect x="379.00" y="679.40" width="255.50" height="4.60"/>
<rect x="454.50" y="653.10" width="32.70" height="2.20"/>
<path d="M495.50,654.20 L487.20,654.20 A8.30,8.30 0 0 0 495.50,662.50" stroke="#000" stroke-width="1.6" fill="none"/>
<rect x="495.50" y="653.20" width="3.20" height="26.80"/>
<rect x="498.70" y="653.10" width="33.30" height="2.20"/>
<path d="M541.00,654.20 L532.20,654.20 A8.80,8.80 0 0 0 541.00,663.00" stroke="#000" stroke-width="1.6" fill="none"/>
<rect x="538.40" y="653.00" width="4.50" height="10.00"/>
<rect x="540.40" y="663.00" width="2.20" height="17.00"/>
<path d="M542.90,654.20 L551.20,654.20 A8.30,8.30 0 0 1 542.90,662.50" stroke="#000" stroke-width="1.6" fill="none"/>
<rect x="551.20" y="653.10" width="40.80" height="2.20"/>
<rect x="591.05" y="617.00" width="1.90" height="63.00"/>
<rect x="630.00" y="607.00" width="2.00" height="64.00"/>
<rect x="630.00" y="670.00" width="4.50" height="14.00"/>
<rect x="471.05" y="608.70" width="1.90" height="16.30"/>
<path d="M472.00,634.60 L472.00,625.00 A9.60,9.60 0 0 1 481.60,634.60" stroke="#000" stroke-width="1.6" fill="none"/>
<rect x="471.00" y="634.00" width="9.00" height="3.00"/>
<rect x="480.00" y="634.20" width="95.00" height="2.60"/>
<rect x="526.25" y="616.00" width="1.90" height="21.00"/>
<rect x="527.00" y="628.00" width="48.00" height="8.00" fill="none" stroke="#000" stroke-width="1.3"/>
<rect x="548.90" y="609.00" width="2.60" height="27.00"/>
<rect x="549.80" y="609.00" width="0.80" height="27.00"/>
<rect x="573.00" y="609.00" width="2.00" height="28.00"/>
<path d="M530.70,637.00 L530.70,644.00 A7.00,7.00 0 0 0 537.70,637.00" stroke="#000" stroke-width="1.6" fill="none"/>
<path d="M544.80,637.00 L544.80,644.00 A7.00,7.00 0 0 1 537.80,637.00" stroke="#000" stroke-width="1.6" fill="none"/>
<path d="M555.00,637.00 L555.00,644.00 A7.00,7.00 0 0 0 562.00,637.00" stroke="#000" stroke-width="1.6" fill="none"/>
<path d="M568.50,637.00 L568.50,644.00 A7.00,7.00 0 0 1 561.50,637.00" stroke="#000" stroke-width="1.6" fill="none"/>
<path d="M541,611 a2.5,1.5 0 1 0 5,0 M553,611 a2.5,1.5 0 1 0 5,0" stroke="#000" stroke-width="0.8" fill="none"/>
<rect x="542.50" y="603.00" width="3.00" height="5.00" fill="none" stroke="#000" stroke-width="0.8"/>
<rect x="553.50" y="603.00" width="3.00" height="5.00" fill="none" stroke="#000" stroke-width="0.8"/>
<path d="M575.00,637.00 L575.00,627.00 A10.00,10.00 0 0 1 585.00,637.00" stroke="#000" stroke-width="1.6" fill="none"/>
<rect x="585.80" y="635.90" width="5.60" height="2.20"/>
<rect x="537.00" y="606.40" width="38.00" height="3.00"/>
<path d="M575.00,609.00 L565.50,609.00 A9.50,9.50 0 0 0 575.00,618.50" stroke="#000" stroke-width="1.6" fill="none"/>
<path d="M524.50,607.30 L524.50,615.30 A8.00,8.00 0 0 1 516.50,607.30" stroke="#000" stroke-width="1.6" fill="none"/>
<rect x="525.00" y="606.00" width="3.80" height="10.00"/>
<path d="M528.80,607.30 L528.80,615.30 A8.00,8.00 0 0 0 536.80,607.30" stroke="#000" stroke-width="1.6" fill="none"/>
<rect x="591.00" y="606.00" width="9.50" height="4.00"/>
<path d="M591.40,608.50 L600.40,608.50 A9.00,9.00 0 0 1 591.40,617.50" stroke="#000" stroke-width="1.6" fill="none"/>
<rect x="542.90" y="578.20" width="210.10" height="2.20"/>
<rect x="437.80" y="606.20" width="78.90" height="2.20"/>
<rect x="600.50" y="606.20" width="469.00" height="2.20"/>
<rect x="1091.40" y="606.20" width="22.60" height="2.20"/>
<rect x="1133.00" y="606.20" width="43.00" height="2.20"/>
<rect x="1212.00" y="606.20" width="3.00" height="2.20"/>
<rect x="666.80" y="579.30" width="1.40" height="28.00"/>
<path d="M732,593 H753 M748,590.2 L753,593 L748,595.8" stroke="#000" stroke-width="1.3" fill="none"/>
<rect x="477.00" y="554.00" width="48.40" height="2.20"/>
<rect x="525.30" y="492.50" width="1.80" height="52.00"/>
<rect x="525.30" y="553.00" width="1.80" height="26.50"/>
<path d="M526.20,553.00 L517.20,553.00 A9.00,9.00 0 0 1 526.20,544.00" stroke="#000" stroke-width="1.6" fill="none"/>
<rect x="477.00" y="577.90" width="38.00" height="2.20"/>
<path d="M523.00,579.00 L523.00,571.00 A8.00,8.00 0 0 0 515.00,579.00" stroke="#000" stroke-width="1.6" fill="none"/>
<rect x="525.60" y="572.00" width="3.00" height="7.50"/>
<path d="M528.60,579.50 L528.60,571.50 A8.00,8.00 0 0 1 536.60,579.50" stroke="#000" stroke-width="1.6" fill="none"/>
<rect x="536.00" y="570.20" width="7.90" height="1.80"/>
<rect x="542.00" y="571.00" width="1.80" height="8.50"/>
<rect x="482.50" y="579.00" width="1.80" height="4.40"/>
<rect x="482.50" y="601.40" width="1.80" height="5.90"/>
<path d="M483.40,583.40 L474.70,583.40 A8.70,8.70 0 0 0 483.40,592.10" stroke="#000" stroke-width="1.6" fill="none"/>
<path d="M483.40,601.40 L474.70,601.40 A8.70,8.70 0 0 1 483.40,592.70" stroke="#000" stroke-width="1.6" fill="none"/>
<rect x="527.00" y="537.50" width="14.70" height="2.20"/>
<rect x="561.90" y="537.50" width="38.10" height="2.20"/>
<rect x="550.60" y="492.50" width="1.80" height="37.50"/>
<rect x="549.40" y="529.00" width="4.30" height="10.20"/>
<path d="M549.40,538.60 L541.10,538.60 A8.30,8.30 0 0 1 549.40,530.30" stroke="#000" stroke-width="1.6" fill="none"/>
<path d="M553.70,538.60 L562.00,538.60 A8.30,8.30 0 0 0 553.70,530.30" stroke="#000" stroke-width="1.6" fill="none"/>
<rect x="571.10" y="538.60" width="1.80" height="12.60"/>
<rect x="572.00" y="559.50" width="29.00" height="3.00"/>
<rect x="599.00" y="538.60" width="3.00" height="24.00"/>
<path d="M572.00,561.00 L572.00,552.50 A8.50,8.50 0 0 1 580.50,561.00" stroke="#000" stroke-width="1.6" fill="none"/>
<rect x="599.40" y="492.50" width="2.20" height="46.10"/>
<path d="M602.00,562.00 L602.00,553.00 A9.00,9.00 0 0 1 611.00,562.00" stroke="#000" stroke-width="1.6" fill="none"/>
<rect x="611.00" y="560.90" width="75.70" height="2.20"/>
<rect x="685.60" y="492.50" width="2.20" height="85.50"/>
<path d="M686.70,492.50 L695.70,492.50 A9.00,9.00 0 0 1 686.70,501.50" stroke="#000" stroke-width="1.6" fill="none"/>
<path d="M686.70,578.00 L695.70,578.00 A9.00,9.00 0 0 0 686.70,569.00" stroke="#000" stroke-width="1.6" fill="none"/>
<path d="M642.00,579.30 L642.00,587.30 A8.00,8.00 0 0 1 634.00,579.30" stroke="#000" stroke-width="1.6" fill="none"/>
<path d="M634.00,607.30 L634.00,615.30 A8.00,8.00 0 0 0 642.00,607.30" stroke="#000" stroke-width="1.6" fill="none"/>
<rect x="630.70" y="671.00" width="95.30" height="4.00"/>
<g font-size="7.4" font-weight="bold" text-anchor="middle" stroke="#000" stroke-width="0.4"><text transform="translate(379.00,513.30) scale(0.8,1)" x="0" y="0">CONFERENCE</text><text transform="translate(379.00,520.60) scale(0.93,1)" x="0" y="0">350  SF</text></g>
<g font-size="7.4" font-weight="bold" text-anchor="middle" stroke="#000" stroke-width="0.4"><text transform="translate(393.00,595.30) scale(0.8,1)" x="0" y="0">MAIN</text><text transform="translate(393.00,602.60) scale(0.8,1)" x="0" y="0">OFFICE</text><text transform="translate(393.00,609.90) scale(0.93,1)" x="0" y="0">565  SF</text></g>
<g font-size="7.4" font-weight="bold" text-anchor="middle" stroke="#000" stroke-width="0.4"><text transform="translate(414.70,655.30) scale(0.8,1)" x="0" y="0">NURSE</text><text transform="translate(414.70,662.60) scale(0.93,1)" x="0" y="0">500  SF</text></g>
<g font-size="7.4" font-weight="bold" text-anchor="middle" stroke="#000" stroke-width="0.4"><text transform="translate(476.30,663.60) scale(0.8,1)" x="0" y="0">ASSIST</text><text transform="translate(476.30,670.90) scale(0.8,1)" x="0" y="0">PRINCIPAL</text><text transform="translate(476.30,678.20) scale(0.93,1)" x="0" y="0">150  SF</text></g>
<g font-size="7.4" font-weight="bold" text-anchor="middle" stroke="#000" stroke-width="0.4"><text transform="translate(519.20,670.60) scale(0.8,1)" x="0" y="0">PRINCIPAL</text><text transform="translate(519.20,677.90) scale(0.93,1)" x="0" y="0">150  SF</text></g>
<g font-size="7.4" font-weight="bold" text-anchor="middle" stroke="#000" stroke-width="0.4"><text transform="translate(565.30,663.60) scale(0.8,1)" x="0" y="0">CONF/</text><text transform="translate(565.30,670.90) scale(0.8,1)" x="0" y="0">RECORDS</text><text transform="translate(565.30,678.20) scale(0.93,1)" x="0" y="0">180  SF</text></g>
<g font-size="7.4" font-weight="bold" text-anchor="middle" stroke="#000" stroke-width="0.4"><text transform="translate(499.80,621.30) scale(0.8,1)" x="0" y="0">WORK</text><text transform="translate(499.80,628.60) scale(0.93,1)" x="0" y="0">200  SF</text></g>
<g font-size="6.8" font-weight="bold" text-anchor="middle" stroke="#000" stroke-width="0.4"><text transform="translate(537.80,634.67) scale(0.8,1)" x="0" y="0">STOR</text></g>
<g font-size="6.8" font-weight="bold" text-anchor="middle" stroke="#000" stroke-width="0.4"><text transform="translate(561.50,634.67) scale(0.8,1)" x="0" y="0">DATA</text></g>
<g font-size="7.4" font-weight="bold" text-anchor="middle" stroke="#000" stroke-width="0.4"><text transform="translate(611.40,638.00) scale(0.8,1)" x="0" y="0">GUIDANCE</text><text transform="translate(611.40,645.30) scale(0.93,1)" x="0" y="0">375  SF</text></g>
<g font-size="7.4" font-weight="bold" text-anchor="middle" stroke="#000" stroke-width="0.4"><text transform="translate(680.80,632.10) scale(0.93,1)" x="0" y="0">5-8</text><text transform="translate(680.80,639.40) scale(0.8,1)" x="0" y="0">HEALTH</text><text transform="translate(680.80,646.70) scale(0.93,1)" x="0" y="0">800  SF</text></g>
<g font-size="7.4" font-weight="bold" text-anchor="middle" stroke="#000" stroke-width="0.4"><text transform="translate(501.30,518.00) scale(0.8,1)" x="0" y="0">OT/PT</text><text transform="translate(501.30,525.30) scale(0.93,1)" x="0" y="0">400  SF</text></g>
<g font-size="7.4" font-weight="bold" text-anchor="middle" stroke="#000" stroke-width="0.4"><text transform="translate(502.70,568.60) scale(0.8,1)" x="0" y="0">JAN</text><text transform="translate(502.70,575.90) scale(0.93,1)" x="0" y="0">150  SF</text></g>
<g font-size="7.4" font-weight="bold" text-anchor="middle" stroke="#000" stroke-width="0.4"><text transform="translate(539.50,518.00) scale(0.8,1)" x="0" y="0">PSYCH</text><text transform="translate(539.50,525.30) scale(0.93,1)" x="0" y="0">130  SF</text></g>
<g font-size="7.4" font-weight="bold" text-anchor="middle" stroke="#000" stroke-width="0.4"><text transform="translate(576.00,518.30) scale(0.8,1)" x="0" y="0">SPEECH</text><text transform="translate(576.00,525.60) scale(0.93,1)" x="0" y="0">300  SF</text></g>
<g font-size="7.4" font-weight="bold" text-anchor="middle" stroke="#000" stroke-width="0.4"><text transform="translate(584.80,552.60) scale(0.8,1)" x="0" y="0">TEST</text></g>
<g font-size="7.4" font-weight="bold" text-anchor="middle" stroke="#000" stroke-width="0.4"><text transform="translate(643.50,512.10) scale(0.8,1)" x="0" y="0">ES</text><text transform="translate(643.50,519.40) scale(0.8,1)" x="0" y="0">LIFE</text><text transform="translate(643.50,526.70) scale(0.8,1)" x="0" y="0">SKILLS</text><text transform="translate(643.50,534.00) scale(0.93,1)" x="0" y="0">800  SF</text></g>
<g font-size="7.4" font-weight="bold" text-anchor="middle" stroke="#000" stroke-width="0.4"><text transform="translate(720.00,519.30) scale(0.8,1)" x="0" y="0">MS</text><text transform="translate(720.00,526.60) scale(0.8,1)" x="0" y="0">LIFE</text><text transform="translate(720.00,533.90) scale(0.8,1)" x="0" y="0">SKILLS</text><text transform="translate(720.00,541.20) scale(0.93,1)" x="0" y="0">800  SF</text></g>
<rect x="723.50" y="671.00" width="3.80" height="7.50"/>
<rect x="723.50" y="686.30" width="3.80" height="58.70"/>
<rect x="724.40" y="607.00" width="2.40" height="66.00"/>
<path d="M724.50,678.50 L716.00,678.50 A8.50,8.50 0 0 0 724.50,687.00" stroke="#000" stroke-width="1.6" fill="none"/>
<rect x="723.50" y="741.00" width="135.20" height="4.00"/>
<rect x="855.00" y="680.00" width="3.70" height="65.00"/>
<rect x="854.80" y="607.00" width="2.40" height="73.00"/>
<path d="M836.00,607.30 L836.00,615.80 A8.50,8.50 0 0 0 844.50,607.30" stroke="#000" stroke-width="1.6" fill="none"/>
<path d="M853.50,607.30 L853.50,615.80 A8.50,8.50 0 0 1 845.00,607.30" stroke="#000" stroke-width="1.6" fill="none"/>
<rect x="856.00" y="647.90" width="32.00" height="2.20"/>
<rect x="891.90" y="607.00" width="2.20" height="73.00"/>
<path d="M892.00,649.30 L892.00,657.30 A8.00,8.00 0 0 1 884.00,649.30" stroke="#000" stroke-width="1.6" fill="none"/>
<rect x="890.40" y="607.00" width="6.00" height="9.00"/>
<path d="M890.40,607.30 L890.40,615.60 A8.30,8.30 0 0 1 882.10,607.30" stroke="#000" stroke-width="1.6" fill="none"/>
<path d="M896.40,607.30 L896.40,615.60 A8.30,8.30 0 0 0 904.70,607.30" stroke="#000" stroke-width="1.6" fill="none"/>
<rect x="855.00" y="680.00" width="154.00" height="4.00"/>
<rect x="974.90" y="607.00" width="2.20" height="73.00"/>
<rect x="976.00" y="656.30" width="24.00" height="2.20"/>
<rect x="1007.50" y="607.00" width="2.20" height="40.60"/>
<path d="M1009.00,657.60 L999.00,657.60 A10.00,10.00 0 0 1 1009.00,647.60" stroke="#000" stroke-width="1.6" fill="none"/>
<path d="M1009.00,657.60 L999.00,657.60 A10.00,10.00 0 0 0 1009.00,667.60" stroke="#000" stroke-width="1.6" fill="none"/>
<rect x="1000.00" y="655.50" width="9.30" height="4.30"/>
<rect x="1007.10" y="667.70" width="2.20" height="13.30"/>
<rect x="813.30" y="579.30" width="1.40" height="28.00"/>
<rect x="916.30" y="579.30" width="1.40" height="28.00"/>
<rect x="1041.30" y="579.30" width="1.40" height="28.00"/>
<path d="M977,593 H997 M992,590.2 L997,593 L992,595.8" stroke="#000" stroke-width="1.3" fill="none"/>
<g font-size="7.4" font-weight="bold" text-anchor="middle" stroke="#000" stroke-width="0.4"><text transform="translate(792.00,668.50) scale(0.8,1)" x="0" y="0">LIBRARY</text><text transform="translate(792.00,675.80) scale(0.93,1)" x="0" y="0">2,300  SF</text></g>
<g font-size="7.4" font-weight="bold" text-anchor="middle" stroke="#000" stroke-width="0.4"><text transform="translate(874.70,628.00) scale(0.8,1)" x="0" y="0">TECH</text><text transform="translate(874.70,635.30) scale(0.8,1)" x="0" y="0">STOR</text><text transform="translate(874.70,642.60) scale(0.93,1)" x="0" y="0">200  SF</text></g>
<g font-size="7.4" font-weight="bold" text-anchor="middle" stroke="#000" stroke-width="0.4"><text transform="translate(874.70,664.80) scale(0.8,1)" x="0" y="0">TECH</text><text transform="translate(874.70,672.10) scale(0.93,1)" x="0" y="0">150  SF</text></g>
<g font-size="7.4" font-weight="bold" text-anchor="middle" stroke="#000" stroke-width="0.4"><text transform="translate(936.00,640.00) scale(0.8,1)" x="0" y="0">LEARNING</text><text transform="translate(936.00,647.30) scale(0.8,1)" x="0" y="0">LAB</text><text transform="translate(936.00,654.60) scale(0.93,1)" x="0" y="0">800  SF</text></g>
<g font-size="7.4" font-weight="bold" text-anchor="middle" stroke="#000" stroke-width="0.4"><text transform="translate(991.50,630.10) scale(0.8,1)" x="0" y="0">STOR</text><text transform="translate(991.50,637.40) scale(0.93,1)" x="0" y="0">200  SF</text></g>
<g font-size="7.4" font-weight="bold" text-anchor="middle" stroke="#000" stroke-width="0.4"><text transform="translate(991.50,669.30) scale(0.8,1)" x="0" y="0">PRAC</text><text transform="translate(991.50,676.60) scale(0.93,1)" x="0" y="0">90  SF</text></g>
<g font-size="12.1" stroke="#000" stroke-width="0.25"><text x="520.70" y="748" textLength="40.20" lengthAdjust="spacingAndGlyphs">59,015</text><text x="567.40" y="748" textLength="14.90" lengthAdjust="spacingAndGlyphs">SF</text><text x="595.40" y="748" textLength="32.40" lengthAdjust="spacingAndGlyphs">FIRST</text><text x="634.40" y="748" textLength="37.30" lengthAdjust="spacingAndGlyphs">FLOOR</text><text x="520.90" y="760.8" textLength="40.00" lengthAdjust="spacingAndGlyphs">10,925</text><text x="567.40" y="760.8" textLength="14.90" lengthAdjust="spacingAndGlyphs">SF</text><text x="595.40" y="760.8" textLength="46.90" lengthAdjust="spacingAndGlyphs">SECOND</text><text x="649.20" y="760.8" textLength="37.70" lengthAdjust="spacingAndGlyphs">FLOOR</text><text x="520.70" y="782.7" textLength="41.60" lengthAdjust="spacingAndGlyphs">69,940</text><text x="568.70" y="782.7" textLength="14.60" lengthAdjust="spacingAndGlyphs">SF</text><text x="597.50" y="782.7" textLength="36.30" lengthAdjust="spacingAndGlyphs">TOTAL</text></g>
<rect x="514.80" y="766.90" width="178.10" height="1.20"/>
<rect x="752.40" y="92.30" width="100.60" height="5.40"/>
<rect x="870.00" y="92.30" width="100.00" height="5.40"/>
<path d="M853.00,92.70 L853.00,84.20 A8.50,8.50 0 0 1 861.50,92.70" stroke="#000" stroke-width="1.6" fill="none"/>
<path d="M870.00,92.70 L870.00,84.20 A8.50,8.50 0 0 0 861.50,92.70" stroke="#000" stroke-width="1.6" fill="none"/>
<rect x="752.40" y="92.70" width="4.60" height="132.30"/>
<rect x="752.40" y="221.40" width="45.40" height="3.60"/>
<rect x="793.90" y="221.00" width="3.90" height="56.00"/>
<rect x="752.40" y="272.70" width="45.40" height="4.30"/>
<rect x="752.40" y="272.70" width="4.60" height="219.30"/>
<rect x="754.30" y="492.00" width="2.40" height="87.00"/>
<rect x="965.80" y="92.70" width="4.20" height="486.80"/>
<rect x="846.40" y="97.50" width="2.20" height="52.50"/>
<rect x="846.40" y="168.00" width="2.20" height="298.00"/>
<rect x="846.40" y="484.00" width="2.20" height="36.00"/>
<rect x="846.40" y="540.00" width="2.20" height="39.30"/>
<rect x="874.10" y="97.50" width="2.20" height="52.50"/>
<rect x="874.10" y="168.00" width="2.20" height="191.50"/>
<rect x="874.10" y="393.00" width="2.20" height="7.00"/>
<rect x="874.10" y="410.00" width="2.20" height="58.00"/>
<rect x="874.10" y="494.00" width="2.20" height="85.30"/>
<rect x="848.00" y="123.60" width="5.00" height="2.20"/>
<rect x="870.00" y="123.60" width="5.00" height="2.20"/>
<path d="M853.00,124.70 L853.00,116.20 A8.50,8.50 0 0 1 861.50,124.70" stroke="#000" stroke-width="1.6" fill="none"/>
<path d="M870.00,124.70 L870.00,116.20 A8.50,8.50 0 0 0 861.50,124.70" stroke="#000" stroke-width="1.6" fill="none"/>
<rect x="770.50" y="157.90" width="77.00" height="2.20"/>
<rect x="757.00" y="157.90" width="5.00" height="2.20"/>
<path d="M762.00,159.00 L762.00,150.50 A8.50,8.50 0 0 1 770.50,159.00" stroke="#000" stroke-width="1.8" fill="none"/>
<path d="M847.50,159.00 L838.50,159.00 A9.00,9.00 0 0 1 847.50,150.00" stroke="#000" stroke-width="1.6" fill="none"/>
<path d="M847.50,159.00 L838.50,159.00 A9.00,9.00 0 0 0 847.50,168.00" stroke="#000" stroke-width="1.6" fill="none"/>
<rect x="840.00" y="157.00" width="8.50" height="4.00"/>
<path d="M875.20,159.00 L884.20,159.00 A9.00,9.00 0 0 0 875.20,150.00" stroke="#000" stroke-width="1.6" fill="none"/>
<path d="M875.20,159.00 L884.20,159.00 A9.00,9.00 0 0 1 875.20,168.00" stroke="#000" stroke-width="1.6" fill="none"/>
<rect x="874.20" y="157.00" width="8.80" height="4.00"/>
<rect x="797.80" y="220.70" width="49.70" height="2.20"/>
<path d="M847.50,221.80 L838.50,221.80 A9.00,9.00 0 0 1 847.50,212.80" stroke="#000" stroke-width="1.6" fill="none"/>
<rect x="797.80" y="275.50" width="49.70" height="2.20"/>
<path d="M847.50,276.60 L838.50,276.60 A9.00,9.00 0 0 0 847.50,285.60" stroke="#000" stroke-width="1.6" fill="none"/>
<rect x="770.50" y="338.20" width="77.00" height="2.20"/>
<rect x="757.00" y="338.20" width="5.00" height="2.20"/>
<path d="M762.00,339.30 L762.00,330.80 A8.50,8.50 0 0 1 770.50,339.30" stroke="#000" stroke-width="1.8" fill="none"/>
<path d="M847.50,339.30 L838.50,339.30 A9.00,9.00 0 0 0 847.50,348.30" stroke="#000" stroke-width="1.6" fill="none"/>
<rect x="840.00" y="337.50" width="8.50" height="3.50"/>
<rect x="757.00" y="400.90" width="90.50" height="2.20"/>
<rect x="757.00" y="442.60" width="82.00" height="2.20"/>
<rect x="839.00" y="442.00" width="9.50" height="4.00"/>
<path d="M847.50,443.70 L839.00,443.70 A8.50,8.50 0 0 1 847.50,435.20" stroke="#000" stroke-width="1.6" fill="none"/>
<path d="M824.00,446.00 L824.00,454.50 A8.50,8.50 0 0 1 815.50,446.00" stroke="#000" stroke-width="1.6" fill="none"/>
<rect x="757.00" y="477.90" width="67.00" height="2.20"/>
<rect x="823.05" y="454.00" width="1.90" height="65.70"/>
<rect x="845.50" y="459.00" width="3.00" height="42.00"/>
<rect x="824.00" y="479.00" width="23.50" height="2.00"/>
<rect x="824.00" y="481.60" width="23.50" height="0.80"/>
<rect x="824.00" y="458.10" width="23.50" height="1.80"/>
<rect x="824.00" y="500.10" width="23.50" height="1.80"/>
<path d="M845.50,467.00 L837.50,467.00 A8.00,8.00 0 0 1 845.50,459.00" stroke="#000" stroke-width="1.6" fill="none"/>
<path d="M845.50,493.00 L837.50,493.00 A8.00,8.00 0 0 0 845.50,501.00" stroke="#000" stroke-width="1.6" fill="none"/>
<path d="M830,468 a2,3 0 1 0 4,0 a2,3 0 1 0 -4,0 M830,490 a2,3 0 1 0 4,0 a2,3 0 1 0 -4,0" stroke="#000" stroke-width="1.0" fill="none"/>
<rect x="757.00" y="519.40" width="90.70" height="2.20"/>
<path d="M824.00,503.60 L831.50,503.60 A7.50,7.50 0 0 1 824.00,511.10" stroke="#000" stroke-width="1.6" fill="none"/>
<path d="M824.00,518.60 L831.50,518.60 A7.50,7.50 0 0 0 824.00,511.10" stroke="#000" stroke-width="1.6" fill="none"/>
<rect x="846.10" y="521.00" width="1.80" height="19.90"/>
<rect x="846.10" y="556.20" width="1.80" height="22.80"/>
<rect x="847.70" y="527.90" width="4.00" height="1.80"/>
<rect x="868.30" y="527.90" width="6.70" height="1.80"/>
<rect x="850.90" y="528.80" width="1.60" height="9.00"/>
<rect x="867.50" y="528.80" width="1.60" height="9.00"/>
<path d="M851.70,528.80 L851.70,537.10 A8.30,8.30 0 0 0 860.00,528.80" stroke="#000" stroke-width="1.5" fill="none"/>
<path d="M868.30,528.80 L868.30,537.10 A8.30,8.30 0 0 1 860.00,528.80" stroke="#000" stroke-width="1.5" fill="none"/>
<rect x="756.60" y="547.75" width="77.50" height="1.50"/>
<rect x="756.60" y="550.45" width="77.50" height="1.50"/>
<rect x="768.50" y="521.00" width="1.60" height="19.00"/>
<rect x="768.50" y="553.00" width="1.60" height="18.00"/>
<rect x="811.40" y="533.00" width="1.60" height="14.00"/>
<rect x="811.40" y="552.00" width="1.60" height="15.00"/>
<rect x="834.00" y="531.00" width="2.20" height="37.00"/>
<path d="M769.3,521 l-8,9 l8,10 M769.3,571 l-8,-6 l8,-8" stroke="#000" stroke-width="1.3" fill="none"/>
<path d="M769.3,533 l8,6 l0,-6 l8,6 l0,-6" stroke="#000" stroke-width="1.3" fill="none"/>
<path d="M769.3,558 l4.3,6 l4.3,-6" stroke="#000" stroke-width="1.3" fill="none"/>
<path d="M777.9,558 l4.3,6 l4.3,-6" stroke="#000" stroke-width="1.3" fill="none"/>
<path d="M786.5,558 l4.3,6 l4.3,-6" stroke="#000" stroke-width="1.3" fill="none"/>
<path d="M795.0999999999999,558 l4.3,6 l4.3,-6" stroke="#000" stroke-width="1.3" fill="none"/>
<path d="M803.6999999999999,558 l4.3,6 l4.3,-6" stroke="#000" stroke-width="1.3" fill="none"/>
<path d="M758.2,547.5 v-3 a1.8,2 0 0 1 3.6,0 v3" stroke="#000" stroke-width="1.0" fill="none"/>
<path d="M771.2,547.5 v-3 a1.8,2 0 0 1 3.6,0 v3" stroke="#000" stroke-width="1.0" fill="none"/>
<path d="M780.2,547.5 v-3 a1.8,2 0 0 1 3.6,0 v3" stroke="#000" stroke-width="1.0" fill="none"/>
<path d="M789.2,547.5 v-3 a1.8,2 0 0 1 3.6,0 v3" stroke="#000" stroke-width="1.0" fill="none"/>
<path d="M798.2,547.5 v-3 a1.8,2 0 0 1 3.6,0 v3" stroke="#000" stroke-width="1.0" fill="none"/>
<path d="M806.2,547.5 v-3 a1.8,2 0 0 1 3.6,0 v3" stroke="#000" stroke-width="1.0" fill="none"/>
<path d="M758.2,552 v3 a1.8,2 0 0 0 3.6,0 v-3" stroke="#000" stroke-width="1.0" fill="none"/>
<path d="M771.2,552 v3 a1.8,2 0 0 0 3.6,0 v-3" stroke="#000" stroke-width="1.0" fill="none"/>
<path d="M780.2,552 v3 a1.8,2 0 0 0 3.6,0 v-3" stroke="#000" stroke-width="1.0" fill="none"/>
<path d="M789.2,552 v3 a1.8,2 0 0 0 3.6,0 v-3" stroke="#000" stroke-width="1.0" fill="none"/>
<path d="M798.2,552 v3 a1.8,2 0 0 0 3.6,0 v-3" stroke="#000" stroke-width="1.0" fill="none"/>
<path d="M806.2,552 v3 a1.8,2 0 0 0 3.6,0 v-3" stroke="#000" stroke-width="1.0" fill="none"/>
<rect x="813.50" y="541.50" width="19.50" height="5.50" fill="none" stroke="#000" stroke-width="1.0"/>
<rect x="813.50" y="552.50" width="19.50" height="5.50" fill="none" stroke="#000" stroke-width="1.0"/>
<path d="M815.50,542.00V546.50M818.50,542.00V546.50M821.50,542.00V546.50M824.50,542.00V546.50M827.50,542.00V546.50M830.50,542.00V546.50" stroke="#000" stroke-width="1.2" fill="none"/>
<path d="M815.50,553.00V557.50M818.50,553.00V557.50M821.50,553.00V557.50M824.50,553.00V557.50M827.50,553.00V557.50M830.50,553.00V557.50" stroke="#000" stroke-width="1.2" fill="none"/>
<g font-size="6.8" font-weight="bold" text-anchor="middle" stroke="#000" stroke-width="0.4"><text transform="translate(799.50,532.17) scale(0.8,1)" x="0" y="0">BOYS</text></g>
<g font-size="6.8" font-weight="bold" text-anchor="middle" stroke="#000" stroke-width="0.4"><text transform="translate(799.50,574.17) scale(0.8,1)" x="0" y="0">GIRLS</text></g>
<rect x="876.00" y="157.90" width="76.50" height="2.20"/>
<rect x="961.00" y="157.90" width="5.00" height="2.20"/>
<path d="M961.00,159.00 L961.00,150.50 A8.50,8.50 0 0 0 952.50,159.00" stroke="#000" stroke-width="1.8" fill="none"/>
<rect x="876.00" y="220.90" width="76.50" height="2.20"/>
<rect x="961.00" y="220.90" width="5.00" height="2.20"/>
<path d="M961.00,222.00 L961.00,213.50 A8.50,8.50 0 0 0 952.50,222.00" stroke="#000" stroke-width="1.8" fill="none"/>
<path d="M875.20,232.00 L883.20,232.00 A8.00,8.00 0 0 0 875.20,224.00" stroke="#000" stroke-width="1.6" fill="none"/>
<rect x="876.00" y="283.60" width="76.50" height="2.20"/>
<rect x="961.00" y="283.60" width="5.00" height="2.20"/>
<path d="M961.00,284.70 L961.00,276.20 A8.50,8.50 0 0 0 952.50,284.70" stroke="#000" stroke-width="1.8" fill="none"/>
<rect x="876.00" y="358.40" width="76.50" height="2.20"/>
<rect x="961.00" y="358.40" width="5.00" height="2.20"/>
<path d="M961.00,359.50 L961.00,351.00 A8.50,8.50 0 0 0 952.50,359.50" stroke="#000" stroke-width="1.8" fill="none"/>
<path d="M875.20,359.50 L884.20,359.50 A9.00,9.00 0 0 0 875.20,350.50" stroke="#000" stroke-width="1.6" fill="none"/>
<rect x="876.00" y="391.60" width="76.50" height="2.20"/>
<rect x="961.00" y="391.60" width="5.00" height="2.20"/>
<path d="M961.00,392.70 L961.00,384.20 A8.50,8.50 0 0 0 952.50,392.70" stroke="#000" stroke-width="1.8" fill="none"/>
<rect x="907.90" y="359.50" width="2.20" height="33.20"/>
<rect x="876.00" y="375.90" width="33.00" height="2.20"/>
<path d="M875.20,367.40 L866.20,367.40 A9.00,9.00 0 0 1 875.20,358.40" stroke="#000" stroke-width="1.6" fill="none"/>
<path d="M875.20,383.50 L866.20,383.50 A9.00,9.00 0 0 1 875.20,374.50" stroke="#000" stroke-width="1.6" fill="none"/>
<path d="M875.20,400.00 L884.20,400.00 A9.00,9.00 0 0 1 875.20,409.00" stroke="#000" stroke-width="1.6" fill="none"/>
<rect x="876.00" y="466.90" width="90.00" height="2.20"/>
<rect x="876.00" y="493.30" width="90.00" height="2.20"/>
<path d="M875.20,476.00 L867.20,476.00 A8.00,8.00 0 0 1 875.20,468.00" stroke="#000" stroke-width="1.6" fill="none"/>
<path d="M875.20,494.00 L884.20,494.00 A9.00,9.00 0 0 1 875.20,503.00" stroke="#000" stroke-width="1.6" fill="none"/>
<rect x="897.90" y="468.00" width="2.20" height="26.40"/>
<rect x="939.20" y="468.00" width="2.20" height="26.40"/>
<path d="M939.00,494.40 L939.00,503.40 A9.00,9.00 0 0 1 930.00,494.40" stroke="#000" stroke-width="1.6" fill="none"/>
<path d="M946.40,494.40 L946.40,502.40 A8.00,8.00 0 0 0 954.40,494.40" stroke="#000" stroke-width="1.6" fill="none"/>
<path d="M877.50,579.30 L886.00,579.30 A8.50,8.50 0 0 0 877.50,570.80" stroke="#000" stroke-width="1.6" fill="none"/>
<rect x="874.00" y="570.50" width="4.00" height="8.80"/>
<g font-size="7.4" font-weight="bold" text-anchor="middle" stroke="#000" stroke-width="0.4"><text transform="translate(797.20,124.10) scale(0.8,1)" x="0" y="0">MS</text><text transform="translate(797.20,131.40) scale(0.8,1)" x="0" y="0">ENGLISH</text><text transform="translate(797.20,138.70) scale(0.93,1)" x="0" y="0">750  SF</text></g>
<g font-size="7.4" font-weight="bold" text-anchor="middle" stroke="#000" stroke-width="0.4"><text transform="translate(921.70,116.90) scale(0.8,1)" x="0" y="0">MS</text><text transform="translate(921.70,124.20) scale(0.8,1)" x="0" y="0">FOREIGN</text><text transform="translate(921.70,131.50) scale(0.8,1)" x="0" y="0">LANGUAGE</text><text transform="translate(921.70,138.80) scale(0.93,1)" x="0" y="0">750  SF</text></g>
<g font-size="7.4" font-weight="bold" text-anchor="middle" stroke="#000" stroke-width="0.4"><text transform="translate(797.20,187.30) scale(0.8,1)" x="0" y="0">MS</text><text transform="translate(797.20,194.60) scale(0.8,1)" x="0" y="0">ENGLISH</text><text transform="translate(797.20,201.90) scale(0.93,1)" x="0" y="0">750  SF</text></g>
<g font-size="7.4" font-weight="bold" text-anchor="middle" stroke="#000" stroke-width="0.4"><text transform="translate(921.70,180.60) scale(0.8,1)" x="0" y="0">MS</text><text transform="translate(921.70,187.90) scale(0.8,1)" x="0" y="0">SOCIAL</text><text transform="translate(921.70,195.20) scale(0.8,1)" x="0" y="0">STUDIES</text><text transform="translate(921.70,202.50) scale(0.93,1)" x="0" y="0">750  SF</text></g>
<g font-size="7.4" font-weight="bold" text-anchor="middle" stroke="#000" stroke-width="0.4"><text transform="translate(820.70,246.30) scale(0.8,1)" x="0" y="0">SMALL</text><text transform="translate(820.70,253.60) scale(0.8,1)" x="0" y="0">GROUP</text><text transform="translate(820.70,260.90) scale(0.93,1)" x="0" y="0">260  SF</text></g>
<g font-size="7.4" font-weight="bold" text-anchor="middle" stroke="#000" stroke-width="0.4"><text transform="translate(921.70,246.70) scale(0.8,1)" x="0" y="0">MS</text><text transform="translate(921.70,254.00) scale(0.8,1)" x="0" y="0">SOCIAL</text><text transform="translate(921.70,261.30) scale(0.8,1)" x="0" y="0">STUDIES</text><text transform="translate(921.70,268.60) scale(0.93,1)" x="0" y="0">750  SF</text></g>
<g font-size="7.4" font-weight="bold" text-anchor="middle" stroke="#000" stroke-width="0.4"><text transform="translate(800.60,307.30) scale(0.8,1)" x="0" y="0">MATH</text><text transform="translate(800.60,314.60) scale(0.93,1)" x="0" y="0">750  SF</text></g>
<g font-size="7.4" font-weight="bold" text-anchor="middle" stroke="#000" stroke-width="0.4"><text transform="translate(921.00,313.30) scale(0.8,1)" x="0" y="0">MS</text><text transform="translate(921.00,319.80) scale(0.8,1)" x="0" y="0">SCIENCE</text><text transform="translate(921.00,326.30) scale(0.93,1)" x="0" y="0">900  SF</text></g>
<g font-size="7.4" font-weight="bold" text-anchor="middle" stroke="#000" stroke-width="0.4"><text transform="translate(800.60,368.10) scale(0.8,1)" x="0" y="0">MATH</text><text transform="translate(800.60,375.40) scale(0.93,1)" x="0" y="0">750  SF</text></g>
<g font-size="7.4" font-weight="bold" text-anchor="middle" stroke="#000" stroke-width="0.4"><text transform="translate(892.70,371.20) scale(0.8,1)" x="0" y="0">DATA</text></g>
<g font-size="7.4" font-weight="bold" text-anchor="middle" stroke="#000" stroke-width="0.4"><text transform="translate(892.70,386.70) scale(0.8,1)" x="0" y="0">ELEC</text></g>
<g font-size="7.4" font-weight="bold" text-anchor="middle" stroke="#000" stroke-width="0.4"><text transform="translate(934.20,370.70) scale(0.8,1)" x="0" y="0">PREP</text><text transform="translate(934.20,378.00) scale(0.8,1)" x="0" y="0">ROOM</text><text transform="translate(934.20,385.30) scale(0.93,1)" x="0" y="0">300  SF</text></g>
<g font-size="7.4" font-weight="bold" text-anchor="middle" stroke="#000" stroke-width="0.4"><text transform="translate(800.30,423.30) scale(0.8,1)" x="0" y="0">RESOURCE</text><text transform="translate(800.30,429.90) scale(0.8,1)" x="0" y="0">CLASSROOM</text><text transform="translate(800.30,436.50) scale(0.93,1)" x="0" y="0">500  SF</text></g>
<g font-size="7.4" font-weight="bold" text-anchor="middle" stroke="#000" stroke-width="0.4"><text transform="translate(920.70,425.60) scale(0.8,1)" x="0" y="0">MS</text><text transform="translate(920.70,432.10) scale(0.8,1)" x="0" y="0">SCIENCE</text><text transform="translate(920.70,438.60) scale(0.93,1)" x="0" y="0">900  SF</text></g>
<g font-size="7.4" font-weight="bold" text-anchor="middle" stroke="#000" stroke-width="0.4"><text transform="translate(788.30,459.30) scale(0.8,1)" x="0" y="0">WORK</text><text transform="translate(788.30,466.60) scale(0.8,1)" x="0" y="0">ROOM</text><text transform="translate(788.30,473.90) scale(0.93,1)" x="0" y="0">300  SF</text></g>
<g font-size="7.4" font-weight="bold" text-anchor="middle" stroke="#000" stroke-width="0.4"><text transform="translate(788.30,497.30) scale(0.8,1)" x="0" y="0">MECH</text></g>
<g font-size="7.4" font-weight="bold" text-anchor="middle" stroke="#000" stroke-width="0.4"><text transform="translate(788.30,506.60) scale(0.93,1)" x="0" y="0">370  SF</text></g>
<g font-size="7.4" font-weight="bold" text-anchor="middle" stroke="#000" stroke-width="0.4"><text transform="translate(887.30,482.00) scale(0.8,1)" x="0" y="0">JAN</text></g>
<g font-size="7.4" font-weight="bold" text-anchor="middle" stroke="#000" stroke-width="0.4"><text transform="translate(918.40,482.00) scale(0.8,1)" x="0" y="0">STORAGE</text></g>
<g font-size="7.4" font-weight="bold" text-anchor="middle" stroke="#000" stroke-width="0.4"><text transform="translate(954.00,479.30) scale(0.8,1)" x="0" y="0">KILN</text></g>
<g font-size="7.4" font-weight="bold" text-anchor="middle" stroke="#000" stroke-width="0.4"><text transform="translate(920.50,540.80) scale(0.8,1)" x="0" y="0">ART</text><text transform="translate(920.50,548.10) scale(0.93,1)" x="0" y="0">1,275  SF</text></g>
<rect x="966.00" y="574.70" width="204.00" height="4.80"/>
<polygon points="1165.08,579.50 1167.94,568.00 1172.54,568.00 1169.68,579.50"/>
<polygon points="1172.17,551.00 1205.45,417.30 1210.05,417.30 1176.77,551.00"/>
<rect x="1205.00" y="417.30" width="97.00" height="4.70"/>
<rect x="1317.30" y="417.30" width="11.20" height="4.70"/>
<rect x="1325.00" y="417.30" width="3.50" height="130.20"/>
<rect x="1325.00" y="434.00" width="14.60" height="4.80"/>
<rect x="1348.60" y="434.00" width="119.40" height="4.80"/>
<rect x="1463.10" y="434.00" width="4.50" height="93.50"/>
<rect x="1463.10" y="543.50" width="4.50" height="17.90"/>
<rect x="1463.10" y="577.90" width="4.50" height="167.60"/>
<rect x="1214.00" y="546.30" width="27.00" height="2.40"/>
<rect x="1308.00" y="546.30" width="157.00" height="2.40"/>
<rect x="1241.00" y="547.10" width="67.00" height="0.80"/>
<rect x="1213.80" y="547.00" width="2.40" height="60.30"/>
<rect x="1342.40" y="547.00" width="2.20" height="60.30"/>
<rect x="1371.90" y="547.00" width="2.20" height="60.30"/>
<rect x="1343.50" y="570.40" width="29.50" height="2.20"/>
<path d="M1373.00,607.00 L1365.00,607.00 A8.00,8.00 0 0 1 1373.00,599.00" stroke="#000" stroke-width="1.6" fill="none"/>
<rect x="1152.90" y="607.00" width="2.80" height="111.00"/>
<rect x="1151.30" y="718.00" width="5.40" height="34.70"/>
<rect x="1151.30" y="770.00" width="5.40" height="37.60"/>
<rect x="1151.30" y="803.30" width="245.70" height="4.30"/>
<rect x="1393.25" y="607.00" width="2.50" height="138.00"/>
<rect x="1392.00" y="745.00" width="5.00" height="5.00"/>
<rect x="1392.00" y="767.00" width="5.00" height="40.60"/>
<rect x="1156.00" y="606.30" width="85.00" height="2.60"/>
<rect x="1308.00" y="606.30" width="157.00" height="2.60"/>
<rect x="1241.00" y="607.20" width="67.00" height="0.80"/>
<rect x="1394.00" y="651.80" width="71.00" height="2.40"/>
<rect x="1394.00" y="695.50" width="71.00" height="3.00"/>
<rect x="1392.00" y="741.50" width="75.50" height="4.00"/>
<path d="M1395.30,609.00 L1395.30,617.00 A8.00,8.00 0 0 0 1403.30,609.00" stroke="#000" stroke-width="1.6" fill="none"/>
<path d="M1395.30,695.40 L1395.30,687.40 A8.00,8.00 0 0 1 1403.30,695.40" stroke="#000" stroke-width="1.6" fill="none"/>
<path d="M1395.30,709.00 L1384.80,709.00 A10.50,10.50 0 0 0 1395.30,719.50" stroke="#000" stroke-width="1.6" fill="none"/>
<path d="M1395.30,730.60 L1384.80,730.60 A10.50,10.50 0 0 1 1395.30,720.10" stroke="#000" stroke-width="1.6" fill="none"/>
<path d="M1397.00,750.00 L1405.50,750.00 A8.50,8.50 0 0 1 1397.00,758.50" stroke="#000" stroke-width="1.6" fill="none"/>
<path d="M1397.00,767.00 L1405.50,767.00 A8.50,8.50 0 0 0 1397.00,758.50" stroke="#000" stroke-width="1.6" fill="none"/>
<path d="M1152.00,752.70 L1143.00,752.70 A9.00,9.00 0 0 0 1152.00,761.70" stroke="#000" stroke-width="1.6" fill="none"/>
<path d="M1152.00,770.00 L1143.00,770.00 A9.00,9.00 0 0 1 1152.00,761.00" stroke="#000" stroke-width="1.6" fill="none"/>
<path d="M1176.70,607.30 L1176.70,598.80 A8.50,8.50 0 0 1 1185.20,607.30" stroke="#000" stroke-width="1.6" fill="none"/>
<path d="M1194.00,607.30 L1194.00,598.80 A8.50,8.50 0 0 0 1185.50,607.30" stroke="#000" stroke-width="1.6" fill="none"/>
<path d="M1194.00,607.30 L1194.00,598.80 A8.50,8.50 0 0 1 1202.50,607.30" stroke="#000" stroke-width="1.6" fill="none"/>
<path d="M1211.30,607.30 L1211.30,598.80 A8.50,8.50 0 0 0 1202.80,607.30" stroke="#000" stroke-width="1.6" fill="none"/>
<path d="M1467.50,561.40 L1475.70,561.40 A8.20,8.20 0 0 1 1467.50,569.60" stroke="#000" stroke-width="1.6" fill="none"/>
<path d="M1467.50,577.90 L1475.70,577.90 A8.20,8.20 0 0 0 1467.50,569.70" stroke="#000" stroke-width="1.6" fill="none"/>
<path d="M1467.50,527.50 L1475.40,527.50 A7.90,7.90 0 0 1 1467.50,535.40" stroke="#000" stroke-width="1.6" fill="none"/>
<path d="M1467.50,543.50 L1475.40,543.50 A7.90,7.90 0 0 0 1467.50,535.60" stroke="#000" stroke-width="1.6" fill="none"/>
<path d="M1214.00,567.00 L1206.00,567.00 A8.00,8.00 0 0 0 1214.00,575.00" stroke="#000" stroke-width="1.6" fill="none"/>
<rect x="1005.00" y="680.00" width="4.00" height="41.00"/>
<rect x="1005.00" y="717.00" width="151.00" height="4.00"/>
<rect x="1090.80" y="606.00" width="2.00" height="113.00"/>
<path d="M1090.70,721.00 L1090.70,730.00 A9.00,9.00 0 0 1 1081.70,721.00" stroke="#000" stroke-width="1.6" fill="none"/>
<rect x="1037.00" y="608.10" width="31.10" height="6.50" fill="none" stroke="#000" stroke-width="1.1"/>
<rect x="1049.70" y="608.00" width="1.00" height="6.60"/>
<rect x="1057.50" y="608.00" width="1.00" height="6.60"/>
<rect x="1062.40" y="608.00" width="5.70" height="6.60"/>
<rect x="1069.60" y="607.00" width="3.20" height="9.50"/>
<rect x="1088.00" y="607.00" width="3.00" height="9.50"/>
<path d="M1073.00,615.30 L1073.00,607.80 A7.50,7.50 0 0 1 1080.50,615.30" stroke="#000" stroke-width="1.6" fill="none"/>
<path d="M1088.00,615.30 L1088.00,607.80 A7.50,7.50 0 0 0 1080.50,615.30" stroke="#000" stroke-width="1.6" fill="none"/>
<rect x="1090.80" y="606.40" width="23.00" height="3.40"/>
<rect x="1132.70" y="606.40" width="23.30" height="3.40"/>
<rect x="1113.00" y="609.80" width="2.00" height="23.50"/>
<rect x="1132.40" y="609.80" width="2.00" height="23.50"/>
<rect x="1113.00" y="632.30" width="21.40" height="2.00"/>
<path d="M1113.80,609.80 L1105.30,609.80 A8.50,8.50 0 0 0 1113.80,618.30" stroke="#000" stroke-width="1.6" fill="none"/>
<path d="M1133.40,609.80 L1141.90,609.80 A8.50,8.50 0 0 1 1133.40,618.30" stroke="#000" stroke-width="1.6" fill="none"/>
<rect x="1121.35" y="633.00" width="1.30" height="85.00"/>
<rect x="1125.35" y="633.00" width="1.30" height="85.00"/>
<path d="M1116,638 a2,2.2 0 1 0 4,0 a2,2.2 0 1 0 -4,0 M1128,638 a2,2.2 0 1 0 4,0 a2,2.2 0 1 0 -4,0" stroke="#000" stroke-width="1.2" fill="none"/>
<path d="M1116,644 a2,2.2 0 1 0 4,0 a2,2.2 0 1 0 -4,0 M1128,644 a2,2.2 0 1 0 4,0 a2,2.2 0 1 0 -4,0" stroke="#000" stroke-width="1.2" fill="none"/>
<path d="M1116,650 a2,2.2 0 1 0 4,0 a2,2.2 0 1 0 -4,0 M1128,650 a2,2.2 0 1 0 4,0 a2,2.2 0 1 0 -4,0" stroke="#000" stroke-width="1.2" fill="none"/>
<path d="M1116,656 a2,2.2 0 1 0 4,0 a2,2.2 0 1 0 -4,0 M1128,656 a2,2.2 0 1 0 4,0 a2,2.2 0 1 0 -4,0" stroke="#000" stroke-width="1.2" fill="none"/>
<rect x="1106.00" y="661.10" width="33.50" height="1.80"/>
<rect x="1106.00" y="695.30" width="33.50" height="1.80"/>
<path d="M1116,666.0 a2,2 0 1 0 4,0 M1128,666.0 a2,2 0 1 0 4,0" stroke="#000" stroke-width="1.0" fill="none"/>
<path d="M1108,663.0 h8 M1132,663.0 l7,3 l-7,3" stroke="#000" stroke-width="0.9" fill="none"/>
<path d="M1116,672.5 a2,2 0 1 0 4,0 M1128,672.5 a2,2 0 1 0 4,0" stroke="#000" stroke-width="1.0" fill="none"/>
<path d="M1108,669.5 h8 M1132,669.5 l7,3 l-7,3" stroke="#000" stroke-width="0.9" fill="none"/>
<path d="M1116,679.0 a2,2 0 1 0 4,0 M1128,679.0 a2,2 0 1 0 4,0" stroke="#000" stroke-width="1.0" fill="none"/>
<path d="M1108,676.0 h8 M1132,676.0 l7,3 l-7,3" stroke="#000" stroke-width="0.9" fill="none"/>
<path d="M1116,685.5 a2,2 0 1 0 4,0 M1128,685.5 a2,2 0 1 0 4,0" stroke="#000" stroke-width="1.0" fill="none"/>
<path d="M1108,682.5 h8 M1132,682.5 l7,3 l-7,3" stroke="#000" stroke-width="0.9" fill="none"/>
<path d="M1116,692.0 a2,2 0 1 0 4,0 M1128,692.0 a2,2 0 1 0 4,0" stroke="#000" stroke-width="1.0" fill="none"/>
<path d="M1108,689.0 h8 M1132,689.0 l7,3 l-7,3" stroke="#000" stroke-width="0.9" fill="none"/>
<path d="M1092,700 l6,8 l6,-6 M1154,700 l-6,8 l-6,-6" stroke="#000" stroke-width="1.1" fill="none"/>
<path d="M1116,712 a2,2 0 1 0 4,0 M1128,712 a2,2 0 1 0 4,0" stroke="#000" stroke-width="1.0" fill="none"/>
<rect x="1091.20" y="626.00" width="1.60" height="14.00"/>
<rect x="1153.20" y="626.00" width="1.60" height="14.00"/>
<g font-size="7.4" font-weight="bold" text-anchor="middle" stroke="#000" stroke-width="0.4"><text transform="translate(1104.00,656.80) scale(0.8,1)" x="0" y="0">BOYS</text></g>
<g font-size="7.4" font-weight="bold" text-anchor="middle" stroke="#000" stroke-width="0.4"><text transform="translate(1142.00,656.80) scale(0.8,1)" x="0" y="0">GIRLS</text></g>
<path d="M1172.47,551.00 L1163.97,551.00 A8.50,8.50 0 0 0 1172.47,559.50" stroke="#000" stroke-width="1.6" fill="none"/>
<path d="M1168.24,568.00 L1159.74,568.00 A8.50,8.50 0 0 1 1168.24,559.50" stroke="#000" stroke-width="1.6" fill="none"/>
<path d="M1302.00,420.00 L1302.00,412.40 A7.60,7.60 0 0 1 1309.60,420.00" stroke="#000" stroke-width="1.6" fill="none"/>
<path d="M1317.30,420.00 L1317.30,412.40 A7.60,7.60 0 0 0 1309.70,420.00" stroke="#000" stroke-width="1.6" fill="none"/>
<path d="M1340.50,438.00 L1340.50,430.00 A8.00,8.00 0 0 1 1348.50,438.00" stroke="#000" stroke-width="1.6" fill="none"/>
<g font-size="7.4" font-weight="bold" text-anchor="middle" stroke="#000" stroke-width="0.4"><text transform="translate(1256.50,482.30) scale(0.8,1)" x="0" y="0">CAFETERIA</text><text transform="translate(1256.50,489.60) scale(0.93,1)" x="0" y="0">2,250  SF</text></g>
<g font-size="7.4" font-weight="bold" text-anchor="middle" stroke="#000" stroke-width="0.4"><text transform="translate(1387.00,480.30) scale(0.8,1)" x="0" y="0">KITCHEN</text><text transform="translate(1387.00,487.60) scale(0.93,1)" x="0" y="0">2,010  SF</text></g>
<g font-size="7.4" font-weight="bold" text-anchor="middle" stroke="#000" stroke-width="0.4"><text transform="translate(1278.30,578.00) scale(0.8,1)" x="0" y="0">STAGE</text><text transform="translate(1278.30,585.30) scale(0.93,1)" x="0" y="0">1,005  SF</text></g>
<g font-size="7.4" font-weight="bold" text-anchor="middle" stroke="#000" stroke-width="0.4"><text transform="translate(1357.80,584.90) scale(0.8,1)" x="0" y="0">PE</text><text transform="translate(1357.80,592.20) scale(0.8,1)" x="0" y="0">OFFICE</text><text transform="translate(1357.80,599.50) scale(0.93,1)" x="0" y="0">125  SF</text></g>
<g font-size="7.4" font-weight="bold" text-anchor="middle" stroke="#000" stroke-width="0.4"><text transform="translate(1416.30,574.60) scale(0.8,1)" x="0" y="0">BOILER</text><text transform="translate(1416.30,581.90) scale(0.8,1)" x="0" y="0">ROOM</text><text transform="translate(1416.30,589.20) scale(0.93,1)" x="0" y="0">645  SF</text></g>
<g font-size="7.4" font-weight="bold" text-anchor="middle" stroke="#000" stroke-width="0.4"><text transform="translate(1432.00,623.90) scale(0.8,1)" x="0" y="0">GIRLS'</text><text transform="translate(1432.00,631.20) scale(0.8,1)" x="0" y="0">LOCKER</text><text transform="translate(1432.00,638.50) scale(0.8,1)" x="0" y="0">ROOM</text><text transform="translate(1432.00,645.80) scale(0.93,1)" x="0" y="0">400  SF</text></g>
<g font-size="7.4" font-weight="bold" text-anchor="middle" stroke="#000" stroke-width="0.4"><text transform="translate(1432.00,666.80) scale(0.8,1)" x="0" y="0">BOYS'</text><text transform="translate(1432.00,674.10) scale(0.8,1)" x="0" y="0">LOCKER</text><text transform="translate(1432.00,681.40) scale(0.8,1)" x="0" y="0">ROOM</text><text transform="translate(1432.00,688.70) scale(0.93,1)" x="0" y="0">400  SF</text></g>
<g font-size="7.4" font-weight="bold" text-anchor="middle" stroke="#000" stroke-width="0.4"><text transform="translate(1433.00,720.10) scale(0.8,1)" x="0" y="0">STORAGE</text><text transform="translate(1433.00,729.30) scale(0.93,1)" x="0" y="0">400  SF</text></g>
<g font-size="7.4" font-weight="bold" text-anchor="middle" stroke="#000" stroke-width="0.4"><text transform="translate(1276.80,707.10) scale(0.8,1)" x="0" y="0">GYM</text><text transform="translate(1276.80,714.40) scale(0.93,1)" x="0" y="0">6,292  SF</text></g>
<g font-size="7.4" font-weight="bold" text-anchor="middle" stroke="#000" stroke-width="0.4"><text transform="translate(1048.80,655.20) scale(0.8,1)" x="0" y="0">MUSIC</text><text transform="translate(1048.80,662.50) scale(0.93,1)" x="0" y="0">1,200  SF</text></g>
</g>
</svg></body></html>
